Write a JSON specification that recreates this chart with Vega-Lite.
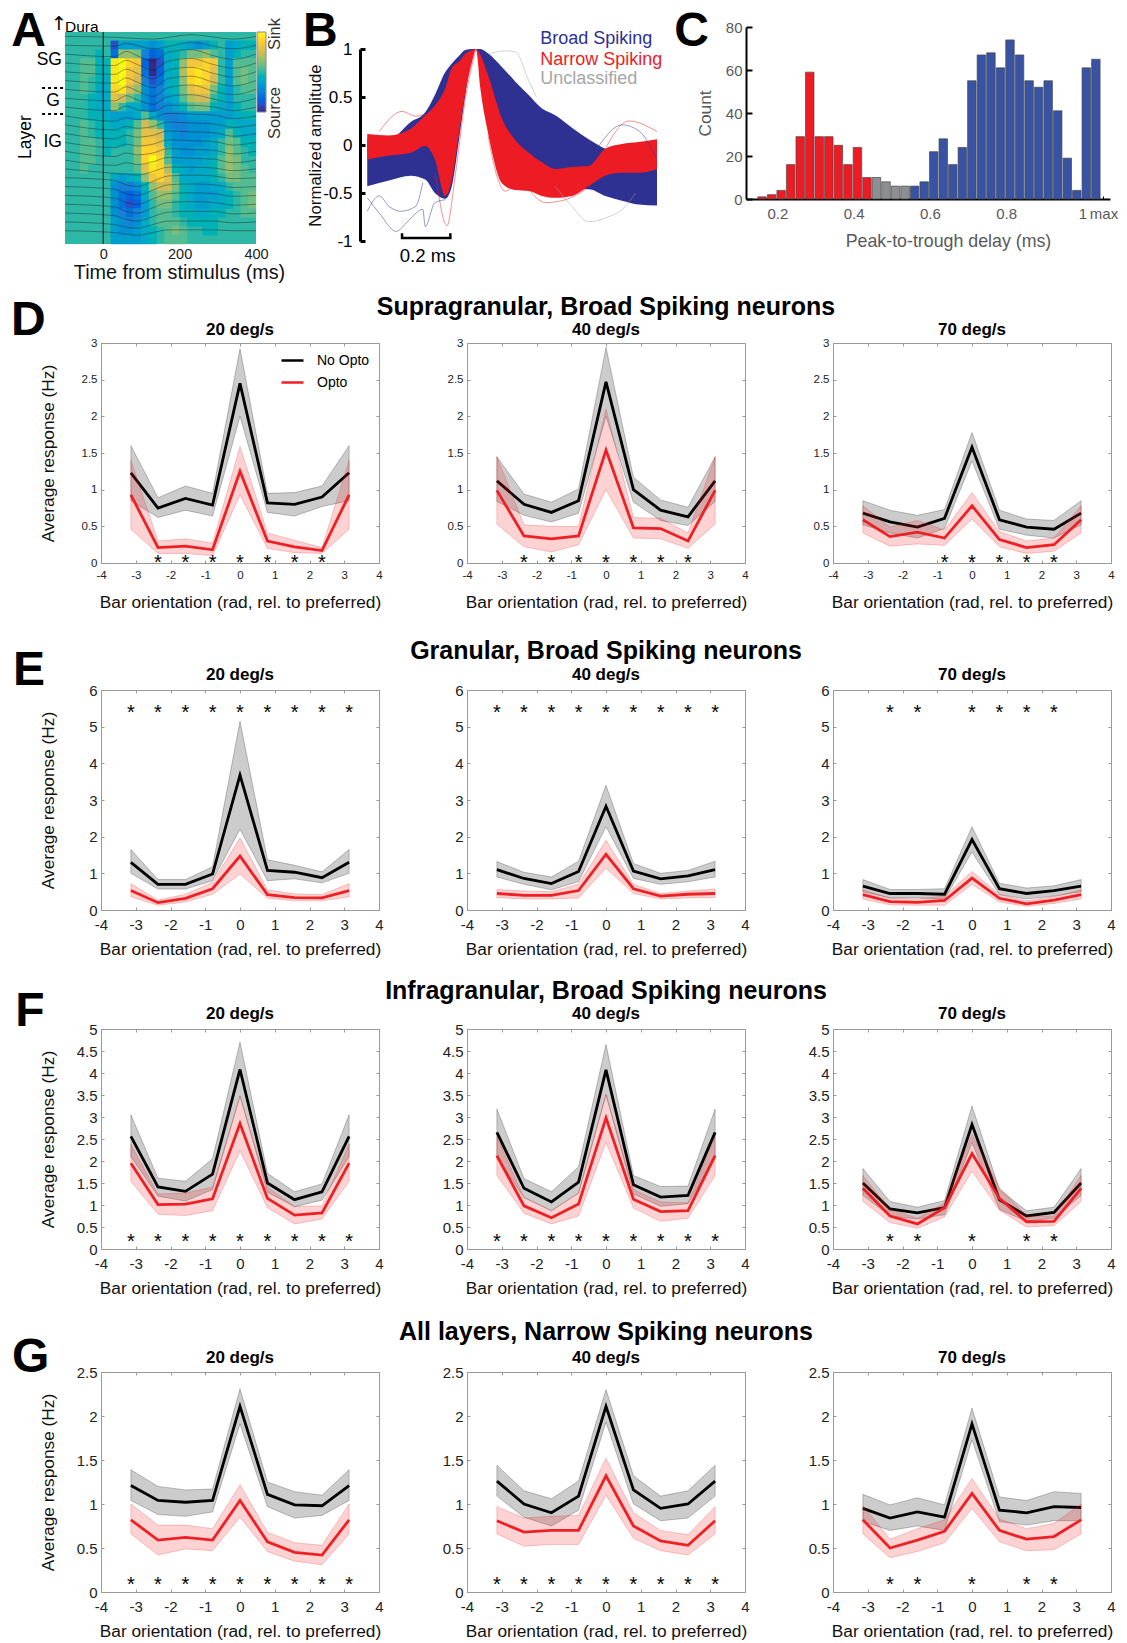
{"$schema":"https://vega.github.io/schema/vega-lite/v6.json","padding":{"left":10,"top":7,"right":0,"bottom":0},"columns":3,"bounds":"flush","spacing":{"column":88,"row":123},
"config":{"font":"Liberation Sans","view":{"stroke":null},"range":{"category":["#000000","#ee2024"]},"text":{"font":"Liberation Sans"},"axis":{"grid":false,"domainColor":"#999","tickColor":"#999","tickSize":-3,"labelFont":"Liberation Sans","titleFont":"Liberation Sans","titleFontWeight":"normal","labelColor":"#222","titleColor":"#111","titleFontSize":17.3,"labelFontSize":15,"titleBaseline":"middle","labelFlush":false,"labelOverlap":false},"axisX":{"labelPadding":10},"axisY":{"labelPadding":7}},
"datasets":{
"lines":[
{"p":"D1","s":"No Opto","x":-3.14,"m":1.23,"l":0.85,"h":1.6},{"p":"D1","s":"No Opto","x":-2.36,"m":0.75,"l":0.62,"h":0.89},{"p":"D1","s":"No Opto","x":-1.57,"m":0.88,"l":0.72,"h":1.05},{"p":"D1","s":"No Opto","x":-0.79,"m":0.79,"l":0.64,"h":0.95},{"p":"D1","s":"No Opto","x":0,"m":2.45,"l":2.0,"h":2.92},{"p":"D1","s":"No Opto","x":0.79,"m":0.82,"l":0.69,"h":0.95},{"p":"D1","s":"No Opto","x":1.57,"m":0.8,"l":0.64,"h":0.96},{"p":"D1","s":"No Opto","x":2.36,"m":0.9,"l":0.77,"h":1.05},{"p":"D1","s":"No Opto","x":3.14,"m":1.23,"l":0.85,"h":1.6},
{"p":"D1","s":"Opto","x":-3.14,"m":0.93,"l":0.46,"h":1.4},{"p":"D1","s":"Opto","x":-2.36,"m":0.21,"l":0.13,"h":0.3},{"p":"D1","s":"Opto","x":-1.57,"m":0.23,"l":0.13,"h":0.33},{"p":"D1","s":"Opto","x":-0.79,"m":0.18,"l":0.1,"h":0.27},{"p":"D1","s":"Opto","x":0,"m":1.25,"l":0.93,"h":1.59},{"p":"D1","s":"Opto","x":0.79,"m":0.3,"l":0.2,"h":0.41},{"p":"D1","s":"Opto","x":1.57,"m":0.22,"l":0.14,"h":0.31},{"p":"D1","s":"Opto","x":2.36,"m":0.17,"l":0.13,"h":0.21},{"p":"D1","s":"Opto","x":3.14,"m":0.93,"l":0.46,"h":1.4},
{"p":"D2","s":"No Opto","x":-3.14,"m":1.12,"l":0.84,"h":1.45},{"p":"D2","s":"No Opto","x":-2.36,"m":0.8,"l":0.65,"h":0.94},{"p":"D2","s":"No Opto","x":-1.57,"m":0.69,"l":0.56,"h":0.83},{"p":"D2","s":"No Opto","x":-0.79,"m":0.85,"l":0.68,"h":1.01},{"p":"D2","s":"No Opto","x":0,"m":2.47,"l":2.0,"h":2.94},{"p":"D2","s":"No Opto","x":0.79,"m":1.0,"l":0.83,"h":1.17},{"p":"D2","s":"No Opto","x":1.57,"m":0.72,"l":0.58,"h":0.86},{"p":"D2","s":"No Opto","x":2.36,"m":0.63,"l":0.51,"h":0.76},{"p":"D2","s":"No Opto","x":3.14,"m":1.12,"l":0.84,"h":1.45},
{"p":"D2","s":"Opto","x":-3.14,"m":0.99,"l":0.53,"h":1.45},{"p":"D2","s":"Opto","x":-2.36,"m":0.37,"l":0.22,"h":0.52},{"p":"D2","s":"Opto","x":-1.57,"m":0.33,"l":0.15,"h":0.5},{"p":"D2","s":"Opto","x":-0.79,"m":0.37,"l":0.25,"h":0.5},{"p":"D2","s":"Opto","x":0,"m":1.54,"l":1.0,"h":2.1},{"p":"D2","s":"Opto","x":0.79,"m":0.48,"l":0.34,"h":0.62},{"p":"D2","s":"Opto","x":1.57,"m":0.47,"l":0.33,"h":0.61},{"p":"D2","s":"Opto","x":2.36,"m":0.3,"l":0.2,"h":0.41},{"p":"D2","s":"Opto","x":3.14,"m":0.99,"l":0.53,"h":1.45},
{"p":"D3","s":"No Opto","x":-3.14,"m":0.68,"l":0.52,"h":0.85},{"p":"D3","s":"No Opto","x":-2.36,"m":0.56,"l":0.41,"h":0.72},{"p":"D3","s":"No Opto","x":-1.57,"m":0.49,"l":0.34,"h":0.65},{"p":"D3","s":"No Opto","x":-0.79,"m":0.61,"l":0.47,"h":0.73},{"p":"D3","s":"No Opto","x":0,"m":1.58,"l":1.39,"h":1.78},{"p":"D3","s":"No Opto","x":0.79,"m":0.59,"l":0.46,"h":0.72},{"p":"D3","s":"No Opto","x":1.57,"m":0.49,"l":0.38,"h":0.6},{"p":"D3","s":"No Opto","x":2.36,"m":0.46,"l":0.34,"h":0.58},{"p":"D3","s":"No Opto","x":3.14,"m":0.68,"l":0.52,"h":0.85},
{"p":"D3","s":"Opto","x":-3.14,"m":0.59,"l":0.41,"h":0.78},{"p":"D3","s":"Opto","x":-2.36,"m":0.36,"l":0.23,"h":0.49},{"p":"D3","s":"Opto","x":-1.57,"m":0.42,"l":0.26,"h":0.58},{"p":"D3","s":"Opto","x":-0.79,"m":0.34,"l":0.24,"h":0.45},{"p":"D3","s":"Opto","x":0,"m":0.78,"l":0.6,"h":0.96},{"p":"D3","s":"Opto","x":0.79,"m":0.32,"l":0.22,"h":0.43},{"p":"D3","s":"Opto","x":1.57,"m":0.21,"l":0.13,"h":0.3},{"p":"D3","s":"Opto","x":2.36,"m":0.25,"l":0.16,"h":0.34},{"p":"D3","s":"Opto","x":3.14,"m":0.59,"l":0.41,"h":0.78},
{"p":"E1","s":"No Opto","x":-3.14,"m":1.3,"l":1.0,"h":1.65},{"p":"E1","s":"No Opto","x":-2.36,"m":0.7,"l":0.57,"h":0.83},{"p":"E1","s":"No Opto","x":-1.57,"m":0.7,"l":0.57,"h":0.83},{"p":"E1","s":"No Opto","x":-0.79,"m":0.98,"l":0.8,"h":1.18},{"p":"E1","s":"No Opto","x":0,"m":3.68,"l":2.2,"h":5.15},{"p":"E1","s":"No Opto","x":0.79,"m":1.08,"l":0.8,"h":1.37},{"p":"E1","s":"No Opto","x":1.57,"m":1.03,"l":0.85,"h":1.22},{"p":"E1","s":"No Opto","x":2.36,"m":0.88,"l":0.74,"h":1.04},{"p":"E1","s":"No Opto","x":3.14,"m":1.3,"l":1.0,"h":1.65},
{"p":"E1","s":"Opto","x":-3.14,"m":0.53,"l":0.36,"h":0.72},{"p":"E1","s":"Opto","x":-2.36,"m":0.2,"l":0.13,"h":0.27},{"p":"E1","s":"Opto","x":-1.57,"m":0.32,"l":0.22,"h":0.43},{"p":"E1","s":"Opto","x":-0.79,"m":0.58,"l":0.43,"h":0.75},{"p":"E1","s":"Opto","x":0,"m":1.47,"l":0.98,"h":1.97},{"p":"E1","s":"Opto","x":0.79,"m":0.42,"l":0.32,"h":0.55},{"p":"E1","s":"Opto","x":1.57,"m":0.34,"l":0.25,"h":0.44},{"p":"E1","s":"Opto","x":2.36,"m":0.33,"l":0.25,"h":0.42},{"p":"E1","s":"Opto","x":3.14,"m":0.53,"l":0.36,"h":0.72},
{"p":"E2","s":"No Opto","x":-3.14,"m":1.1,"l":0.9,"h":1.32},{"p":"E2","s":"No Opto","x":-2.36,"m":0.86,"l":0.7,"h":1.03},{"p":"E2","s":"No Opto","x":-1.57,"m":0.72,"l":0.55,"h":0.9},{"p":"E2","s":"No Opto","x":-0.79,"m":1.05,"l":0.77,"h":1.33},{"p":"E2","s":"No Opto","x":0,"m":2.83,"l":2.27,"h":3.4},{"p":"E2","s":"No Opto","x":0.79,"m":1.06,"l":0.86,"h":1.27},{"p":"E2","s":"No Opto","x":1.57,"m":0.85,"l":0.7,"h":1.0},{"p":"E2","s":"No Opto","x":2.36,"m":0.93,"l":0.77,"h":1.08},{"p":"E2","s":"No Opto","x":3.14,"m":1.1,"l":0.9,"h":1.33},
{"p":"E2","s":"Opto","x":-3.14,"m":0.45,"l":0.34,"h":0.56},{"p":"E2","s":"Opto","x":-2.36,"m":0.4,"l":0.3,"h":0.52},{"p":"E2","s":"Opto","x":-1.57,"m":0.4,"l":0.3,"h":0.5},{"p":"E2","s":"Opto","x":-0.79,"m":0.53,"l":0.33,"h":0.7},{"p":"E2","s":"Opto","x":0,"m":1.52,"l":1.14,"h":1.9},{"p":"E2","s":"Opto","x":0.79,"m":0.58,"l":0.45,"h":0.7},{"p":"E2","s":"Opto","x":1.57,"m":0.38,"l":0.3,"h":0.45},{"p":"E2","s":"Opto","x":2.36,"m":0.43,"l":0.33,"h":0.52},{"p":"E2","s":"Opto","x":3.14,"m":0.45,"l":0.34,"h":0.57},
{"p":"E3","s":"No Opto","x":-3.14,"m":0.65,"l":0.5,"h":0.83},{"p":"E3","s":"No Opto","x":-2.36,"m":0.45,"l":0.33,"h":0.56},{"p":"E3","s":"No Opto","x":-1.57,"m":0.45,"l":0.33,"h":0.56},{"p":"E3","s":"No Opto","x":-0.79,"m":0.43,"l":0.3,"h":0.58},{"p":"E3","s":"No Opto","x":0,"m":1.92,"l":1.58,"h":2.27},{"p":"E3","s":"No Opto","x":0.79,"m":0.58,"l":0.42,"h":0.73},{"p":"E3","s":"No Opto","x":1.57,"m":0.45,"l":0.3,"h":0.6},{"p":"E3","s":"No Opto","x":2.36,"m":0.53,"l":0.38,"h":0.66},{"p":"E3","s":"No Opto","x":3.14,"m":0.65,"l":0.5,"h":0.83},
{"p":"E3","s":"Opto","x":-3.14,"m":0.42,"l":0.3,"h":0.55},{"p":"E3","s":"Opto","x":-2.36,"m":0.23,"l":0.14,"h":0.32},{"p":"E3","s":"Opto","x":-1.57,"m":0.21,"l":0.13,"h":0.3},{"p":"E3","s":"Opto","x":-0.79,"m":0.26,"l":0.13,"h":0.38},{"p":"E3","s":"Opto","x":0,"m":0.87,"l":0.7,"h":1.05},{"p":"E3","s":"Opto","x":0.79,"m":0.32,"l":0.22,"h":0.42},{"p":"E3","s":"Opto","x":1.57,"m":0.17,"l":0.1,"h":0.25},{"p":"E3","s":"Opto","x":2.36,"m":0.27,"l":0.18,"h":0.36},{"p":"E3","s":"Opto","x":3.14,"m":0.42,"l":0.3,"h":0.55},
{"p":"F1","s":"No Opto","x":-3.14,"m":2.56,"l":2.1,"h":3.05},{"p":"F1","s":"No Opto","x":-2.36,"m":1.41,"l":1.2,"h":1.61},{"p":"F1","s":"No Opto","x":-1.57,"m":1.31,"l":1.09,"h":1.54},{"p":"F1","s":"No Opto","x":-0.79,"m":1.7,"l":1.35,"h":2.05},{"p":"F1","s":"No Opto","x":0,"m":4.08,"l":3.48,"h":4.7},{"p":"F1","s":"No Opto","x":0.79,"m":1.5,"l":1.29,"h":1.72},{"p":"F1","s":"No Opto","x":1.57,"m":1.12,"l":0.96,"h":1.3},{"p":"F1","s":"No Opto","x":2.36,"m":1.3,"l":1.11,"h":1.48},{"p":"F1","s":"No Opto","x":3.14,"m":2.56,"l":2.1,"h":3.05},
{"p":"F1","s":"Opto","x":-3.14,"m":1.95,"l":1.54,"h":2.38},{"p":"F1","s":"Opto","x":-2.36,"m":1.01,"l":0.79,"h":1.25},{"p":"F1","s":"Opto","x":-1.57,"m":1.02,"l":0.76,"h":1.27},{"p":"F1","s":"Opto","x":-0.79,"m":1.14,"l":0.87,"h":1.41},{"p":"F1","s":"Opto","x":0,"m":2.85,"l":2.23,"h":3.47},{"p":"F1","s":"Opto","x":0.79,"m":1.15,"l":0.94,"h":1.4},{"p":"F1","s":"Opto","x":1.57,"m":0.77,"l":0.57,"h":0.97},{"p":"F1","s":"Opto","x":2.36,"m":0.82,"l":0.68,"h":0.98},{"p":"F1","s":"Opto","x":3.14,"m":1.95,"l":1.54,"h":2.38},
{"p":"F2","s":"No Opto","x":-3.14,"m":2.65,"l":2.1,"h":3.18},{"p":"F2","s":"No Opto","x":-2.36,"m":1.38,"l":1.17,"h":1.6},{"p":"F2","s":"No Opto","x":-1.57,"m":1.07,"l":0.87,"h":1.3},{"p":"F2","s":"No Opto","x":-0.79,"m":1.52,"l":1.27,"h":1.87},{"p":"F2","s":"No Opto","x":0,"m":4.07,"l":3.5,"h":4.65},{"p":"F2","s":"No Opto","x":0.79,"m":1.46,"l":1.25,"h":1.67},{"p":"F2","s":"No Opto","x":1.57,"m":1.18,"l":0.97,"h":1.42},{"p":"F2","s":"No Opto","x":2.36,"m":1.22,"l":1.03,"h":1.43},{"p":"F2","s":"No Opto","x":3.14,"m":2.65,"l":2.1,"h":3.18},
{"p":"F2","s":"Opto","x":-3.14,"m":2.12,"l":1.67,"h":2.55},{"p":"F2","s":"Opto","x":-2.36,"m":0.98,"l":0.81,"h":1.17},{"p":"F2","s":"Opto","x":-1.57,"m":0.71,"l":0.57,"h":0.87},{"p":"F2","s":"Opto","x":-0.79,"m":1.02,"l":0.75,"h":1.27},{"p":"F2","s":"Opto","x":0,"m":2.98,"l":2.42,"h":3.52},{"p":"F2","s":"Opto","x":0.79,"m":1.13,"l":0.93,"h":1.35},{"p":"F2","s":"Opto","x":1.57,"m":0.85,"l":0.63,"h":1.07},{"p":"F2","s":"Opto","x":2.36,"m":0.87,"l":0.7,"h":1.05},{"p":"F2","s":"Opto","x":3.14,"m":2.12,"l":1.67,"h":2.55},
{"p":"F3","s":"No Opto","x":-3.14,"m":1.5,"l":1.22,"h":1.83},{"p":"F3","s":"No Opto","x":-2.36,"m":0.91,"l":0.75,"h":1.08},{"p":"F3","s":"No Opto","x":-1.57,"m":0.82,"l":0.68,"h":0.95},{"p":"F3","s":"No Opto","x":-0.79,"m":0.94,"l":0.78,"h":1.1},{"p":"F3","s":"No Opto","x":0,"m":2.83,"l":2.42,"h":3.25},{"p":"F3","s":"No Opto","x":0.79,"m":1.12,"l":0.9,"h":1.35},{"p":"F3","s":"No Opto","x":1.57,"m":0.75,"l":0.63,"h":0.87},{"p":"F3","s":"No Opto","x":2.36,"m":0.83,"l":0.7,"h":0.95},{"p":"F3","s":"No Opto","x":3.14,"m":1.5,"l":1.22,"h":1.83},
{"p":"F3","s":"Opto","x":-3.14,"m":1.38,"l":1.08,"h":1.67},{"p":"F3","s":"Opto","x":-2.36,"m":0.75,"l":0.6,"h":0.9},{"p":"F3","s":"Opto","x":-1.57,"m":0.57,"l":0.47,"h":0.7},{"p":"F3","s":"Opto","x":-0.79,"m":0.94,"l":0.73,"h":1.05},{"p":"F3","s":"Opto","x":0,"m":2.17,"l":1.77,"h":2.6},{"p":"F3","s":"Opto","x":0.79,"m":1.15,"l":0.88,"h":1.4},{"p":"F3","s":"Opto","x":1.57,"m":0.62,"l":0.5,"h":0.75},{"p":"F3","s":"Opto","x":2.36,"m":0.63,"l":0.53,"h":0.75},{"p":"F3","s":"Opto","x":3.14,"m":1.38,"l":1.08,"h":1.67},
{"p":"G1","s":"No Opto","x":-3.14,"m":1.21,"l":1.04,"h":1.39},{"p":"G1","s":"No Opto","x":-2.36,"m":1.04,"l":0.88,"h":1.2},{"p":"G1","s":"No Opto","x":-1.57,"m":1.02,"l":0.86,"h":1.16},{"p":"G1","s":"No Opto","x":-0.79,"m":1.04,"l":0.91,"h":1.17},{"p":"G1","s":"No Opto","x":0,"m":2.11,"l":1.91,"h":2.31},{"p":"G1","s":"No Opto","x":0.79,"m":1.11,"l":0.97,"h":1.25},{"p":"G1","s":"No Opto","x":1.57,"m":0.99,"l":0.84,"h":1.14},{"p":"G1","s":"No Opto","x":2.36,"m":0.98,"l":0.87,"h":1.1},{"p":"G1","s":"No Opto","x":3.14,"m":1.21,"l":1.04,"h":1.39},
{"p":"G1","s":"Opto","x":-3.14,"m":0.82,"l":0.66,"h":1.0},{"p":"G1","s":"Opto","x":-2.36,"m":0.59,"l":0.42,"h":0.76},{"p":"G1","s":"Opto","x":-1.57,"m":0.62,"l":0.49,"h":0.76},{"p":"G1","s":"Opto","x":-0.79,"m":0.59,"l":0.47,"h":0.72},{"p":"G1","s":"Opto","x":0,"m":1.04,"l":0.85,"h":1.22},{"p":"G1","s":"Opto","x":0.79,"m":0.57,"l":0.46,"h":0.68},{"p":"G1","s":"Opto","x":1.57,"m":0.45,"l":0.35,"h":0.56},{"p":"G1","s":"Opto","x":2.36,"m":0.42,"l":0.31,"h":0.53},{"p":"G1","s":"Opto","x":3.14,"m":0.82,"l":0.66,"h":1.0},
{"p":"G2","s":"No Opto","x":-3.14,"m":1.26,"l":1.09,"h":1.44},{"p":"G2","s":"No Opto","x":-2.36,"m":1.0,"l":0.85,"h":1.15},{"p":"G2","s":"No Opto","x":-1.57,"m":0.9,"l":0.75,"h":1.06},{"p":"G2","s":"No Opto","x":-0.79,"m":1.09,"l":0.93,"h":1.26},{"p":"G2","s":"No Opto","x":0,"m":2.11,"l":1.93,"h":2.3},{"p":"G2","s":"No Opto","x":0.79,"m":1.16,"l":1.0,"h":1.32},{"p":"G2","s":"No Opto","x":1.57,"m":0.95,"l":0.81,"h":1.09},{"p":"G2","s":"No Opto","x":2.36,"m":1.0,"l":0.84,"h":1.15},{"p":"G2","s":"No Opto","x":3.14,"m":1.26,"l":1.09,"h":1.44},
{"p":"G2","s":"Opto","x":-3.14,"m":0.81,"l":0.66,"h":0.97},{"p":"G2","s":"Opto","x":-2.36,"m":0.68,"l":0.52,"h":0.84},{"p":"G2","s":"Opto","x":-1.57,"m":0.7,"l":0.54,"h":0.86},{"p":"G2","s":"Opto","x":-0.79,"m":0.7,"l":0.54,"h":0.87},{"p":"G2","s":"Opto","x":0,"m":1.32,"l":1.1,"h":1.52},{"p":"G2","s":"Opto","x":0.79,"m":0.75,"l":0.61,"h":0.9},{"p":"G2","s":"Opto","x":1.57,"m":0.58,"l":0.47,"h":0.7},{"p":"G2","s":"Opto","x":2.36,"m":0.53,"l":0.42,"h":0.65},{"p":"G2","s":"Opto","x":3.14,"m":0.81,"l":0.66,"h":0.97},
{"p":"G3","s":"No Opto","x":-3.14,"m":0.95,"l":0.8,"h":1.11},{"p":"G3","s":"No Opto","x":-2.36,"m":0.84,"l":0.7,"h":0.99},{"p":"G3","s":"No Opto","x":-1.57,"m":0.91,"l":0.75,"h":1.07},{"p":"G3","s":"No Opto","x":-0.79,"m":0.85,"l":0.7,"h":0.99},{"p":"G3","s":"No Opto","x":0,"m":1.91,"l":1.73,"h":2.09},{"p":"G3","s":"No Opto","x":0.79,"m":0.93,"l":0.8,"h":1.08},{"p":"G3","s":"No Opto","x":1.57,"m":0.9,"l":0.76,"h":1.04},{"p":"G3","s":"No Opto","x":2.36,"m":0.97,"l":0.81,"h":1.14},{"p":"G3","s":"No Opto","x":3.14,"m":0.96,"l":0.81,"h":1.12},
{"p":"G3","s":"Opto","x":-3.14,"m":0.82,"l":0.66,"h":0.98},{"p":"G3","s":"Opto","x":-2.36,"m":0.5,"l":0.39,"h":0.6},{"p":"G3","s":"Opto","x":-1.57,"m":0.59,"l":0.46,"h":0.72},{"p":"G3","s":"Opto","x":-0.79,"m":0.69,"l":0.56,"h":0.82},{"p":"G3","s":"Opto","x":0,"m":1.12,"l":0.95,"h":1.29},{"p":"G3","s":"Opto","x":0.79,"m":0.7,"l":0.57,"h":0.83},{"p":"G3","s":"Opto","x":1.57,"m":0.6,"l":0.47,"h":0.72},{"p":"G3","s":"Opto","x":2.36,"m":0.63,"l":0.48,"h":0.78},{"p":"G3","s":"Opto","x":3.14,"m":0.82,"l":0.66,"h":1.0}
],
"stars":[
{"p":"D1","x":-2.36,"y":0.07},{"p":"D1","x":-1.57,"y":0.07},{"p":"D1","x":-0.79,"y":0.07},{"p":"D1","x":0,"y":0.07},{"p":"D1","x":0.79,"y":0.07},{"p":"D1","x":1.57,"y":0.07},{"p":"D1","x":2.36,"y":0.07},
{"p":"D2","x":-2.36,"y":0.07},{"p":"D2","x":-1.57,"y":0.07},{"p":"D2","x":-0.79,"y":0.07},{"p":"D2","x":0,"y":0.07},{"p":"D2","x":0.79,"y":0.07},{"p":"D2","x":1.57,"y":0.07},{"p":"D2","x":2.36,"y":0.07},
{"p":"D3","x":-0.79,"y":0.07},{"p":"D3","x":0,"y":0.07},{"p":"D3","x":0.79,"y":0.07},{"p":"D3","x":1.57,"y":0.07},{"p":"D3","x":2.36,"y":0.07},
{"p":"E1","x":-3.14,"y":5.5},{"p":"E1","x":-2.36,"y":5.5},{"p":"E1","x":-1.57,"y":5.5},{"p":"E1","x":-0.79,"y":5.5},{"p":"E1","x":0,"y":5.5},{"p":"E1","x":0.79,"y":5.5},{"p":"E1","x":1.57,"y":5.5},{"p":"E1","x":2.36,"y":5.5},{"p":"E1","x":3.14,"y":5.5},
{"p":"E2","x":-3.14,"y":5.5},{"p":"E2","x":-2.36,"y":5.5},{"p":"E2","x":-1.57,"y":5.5},{"p":"E2","x":-0.79,"y":5.5},{"p":"E2","x":0,"y":5.5},{"p":"E2","x":0.79,"y":5.5},{"p":"E2","x":1.57,"y":5.5},{"p":"E2","x":2.36,"y":5.5},{"p":"E2","x":3.14,"y":5.5},
{"p":"E3","x":-2.36,"y":5.5},{"p":"E3","x":-1.57,"y":5.5},{"p":"E3","x":0,"y":5.5},{"p":"E3","x":0.79,"y":5.5},{"p":"E3","x":1.57,"y":5.5},{"p":"E3","x":2.36,"y":5.5},
{"p":"F1","x":-3.14,"y":0.27},{"p":"F1","x":-2.36,"y":0.27},{"p":"F1","x":-1.57,"y":0.27},{"p":"F1","x":-0.79,"y":0.27},{"p":"F1","x":0,"y":0.27},{"p":"F1","x":0.79,"y":0.27},{"p":"F1","x":1.57,"y":0.27},{"p":"F1","x":2.36,"y":0.27},{"p":"F1","x":3.14,"y":0.27},
{"p":"F2","x":-3.14,"y":0.27},{"p":"F2","x":-2.36,"y":0.27},{"p":"F2","x":-1.57,"y":0.27},{"p":"F2","x":-0.79,"y":0.27},{"p":"F2","x":0,"y":0.27},{"p":"F2","x":0.79,"y":0.27},{"p":"F2","x":1.57,"y":0.27},{"p":"F2","x":2.36,"y":0.27},{"p":"F2","x":3.14,"y":0.27},
{"p":"F3","x":-2.36,"y":0.27},{"p":"F3","x":-1.57,"y":0.27},{"p":"F3","x":0,"y":0.27},{"p":"F3","x":1.57,"y":0.27},{"p":"F3","x":2.36,"y":0.27},
{"p":"G1","x":-3.14,"y":0.137},{"p":"G1","x":-2.36,"y":0.137},{"p":"G1","x":-1.57,"y":0.137},{"p":"G1","x":-0.79,"y":0.137},{"p":"G1","x":0,"y":0.137},{"p":"G1","x":0.79,"y":0.137},{"p":"G1","x":1.57,"y":0.137},{"p":"G1","x":2.36,"y":0.137},{"p":"G1","x":3.14,"y":0.137},
{"p":"G2","x":-3.14,"y":0.137},{"p":"G2","x":-2.36,"y":0.137},{"p":"G2","x":-1.57,"y":0.137},{"p":"G2","x":-0.79,"y":0.137},{"p":"G2","x":0,"y":0.137},{"p":"G2","x":0.79,"y":0.137},{"p":"G2","x":1.57,"y":0.137},{"p":"G2","x":2.36,"y":0.137},{"p":"G2","x":3.14,"y":0.137},
{"p":"G3","x":-2.36,"y":0.137},{"p":"G3","x":-1.57,"y":0.137},{"p":"G3","x":0,"y":0.137},{"p":"G3","x":1.57,"y":0.137},{"p":"G3","x":2.36,"y":0.137}
],
"heat":[
{"t":-100,"t2":400,"d":0.5,"d2":24.5,"v":0}
],
"cells":[
{"t":30,"d":2,"v":-8},{"t":50,"d":2,"v":-3},{"t":70,"d":2,"v":-3},{"t":90,"d":2,"v":-3},{"t":110,"d":2,"v":-3},{"t":130,"d":2,"v":-4},{"t":150,"d":2,"v":-3},{"t":170,"d":2,"v":-1},{"t":190,"d":2,"v":-1},{"t":210,"d":2,"v":-2},{"t":230,"d":2,"v":-3},{"t":250,"d":2,"v":-4},{"t":270,"d":2,"v":-3},{"t":290,"d":2,"v":-1},{"t":330,"d":2,"v":-3},{"t":350,"d":2,"v":-2},{"t":370,"d":2,"v":-1},{"t":390,"d":2,"v":-1},
{"t":-10,"d":3,"v":-1},{"t":30,"d":3,"v":-6},{"t":50,"d":3,"v":3},{"t":70,"d":3,"v":3},{"t":90,"d":3,"v":2},{"t":110,"d":3,"v":-5},{"t":130,"d":3,"v":-7},{"t":150,"d":3,"v":-6},{"t":170,"d":3,"v":-2},{"t":190,"d":3,"v":-1},{"t":230,"d":3,"v":2},{"t":250,"d":3,"v":2},{"t":270,"d":3,"v":3},{"t":290,"d":3,"v":1},{"t":330,"d":3,"v":-3},{"t":350,"d":3,"v":-1},
{"t":-50,"d":4,"v":1},{"t":-30,"d":4,"v":1},{"t":-10,"d":4,"v":-1},{"t":10,"d":4,"v":-1},{"t":30,"d":4,"v":9},{"t":50,"d":4,"v":10},{"t":70,"d":4,"v":8},{"t":90,"d":4,"v":7},{"t":110,"d":4,"v":-7},{"t":130,"d":4,"v":-10},{"t":150,"d":4,"v":-8},{"t":170,"d":4,"v":-2},{"t":190,"d":4,"v":-1},{"t":210,"d":4,"v":3},{"t":230,"d":4,"v":7},{"t":250,"d":4,"v":7},{"t":270,"d":4,"v":8},{"t":290,"d":4,"v":7},{"t":330,"d":4,"v":-3},{"t":350,"d":4,"v":1},{"t":370,"d":4,"v":1},{"t":390,"d":4,"v":1},
{"t":-50,"d":5,"v":1},{"t":-30,"d":5,"v":1},{"t":-10,"d":5,"v":-1},{"t":10,"d":5,"v":-1},{"t":30,"d":5,"v":9},{"t":50,"d":5,"v":10},{"t":70,"d":5,"v":7},{"t":90,"d":5,"v":6},{"t":110,"d":5,"v":-6},{"t":130,"d":5,"v":-10},{"t":150,"d":5,"v":-7},{"t":170,"d":5,"v":-2},{"t":190,"d":5,"v":-1},{"t":210,"d":5,"v":4},{"t":230,"d":5,"v":8},{"t":250,"d":5,"v":9},{"t":270,"d":5,"v":8},{"t":290,"d":5,"v":6},{"t":330,"d":5,"v":-3},{"t":350,"d":5,"v":1},{"t":370,"d":5,"v":2},{"t":390,"d":5,"v":1},
{"t":-50,"d":6,"v":1},{"t":-10,"d":6,"v":-1},{"t":10,"d":6,"v":-2},{"t":30,"d":6,"v":9},{"t":50,"d":6,"v":10},{"t":70,"d":6,"v":7},{"t":90,"d":6,"v":5},{"t":110,"d":6,"v":-5},{"t":130,"d":6,"v":-8},{"t":150,"d":6,"v":-6},{"t":170,"d":6,"v":-2},{"t":190,"d":6,"v":-1},{"t":210,"d":6,"v":3},{"t":230,"d":6,"v":8},{"t":250,"d":6,"v":9},{"t":270,"d":6,"v":8},{"t":290,"d":6,"v":5},{"t":330,"d":6,"v":-3},{"t":350,"d":6,"v":1},{"t":370,"d":6,"v":2},{"t":390,"d":6,"v":1},
{"t":-50,"d":7,"v":1},{"t":-10,"d":7,"v":-2},{"t":10,"d":7,"v":-2},{"t":30,"d":7,"v":8},{"t":50,"d":7,"v":9},{"t":70,"d":7,"v":5},{"t":90,"d":7,"v":3},{"t":110,"d":7,"v":-4},{"t":130,"d":7,"v":-6},{"t":150,"d":7,"v":-5},{"t":170,"d":7,"v":-2},{"t":190,"d":7,"v":-1},{"t":210,"d":7,"v":2},{"t":230,"d":7,"v":6},{"t":250,"d":7,"v":7},{"t":270,"d":7,"v":7},{"t":290,"d":7,"v":2},{"t":310,"d":7,"v":-1},{"t":330,"d":7,"v":-3},{"t":370,"d":7,"v":1},{"t":390,"d":7,"v":1},
{"t":-30,"d":8,"v":-1},{"t":-10,"d":8,"v":-2},{"t":10,"d":8,"v":-2},{"t":30,"d":8,"v":6},{"t":50,"d":8,"v":5},{"t":70,"d":8,"v":2},{"t":110,"d":8,"v":-4},{"t":130,"d":8,"v":-6},{"t":150,"d":8,"v":-5},{"t":170,"d":8,"v":-3},{"t":190,"d":8,"v":-2},{"t":210,"d":8,"v":1},{"t":230,"d":8,"v":4},{"t":250,"d":8,"v":5},{"t":270,"d":8,"v":5},{"t":310,"d":8,"v":-1},{"t":330,"d":8,"v":-3},
{"t":-30,"d":9,"v":-1},{"t":-10,"d":9,"v":-2},{"t":10,"d":9,"v":-2},{"t":30,"d":9,"v":3},{"t":70,"d":9,"v":-2},{"t":90,"d":9,"v":-2},{"t":110,"d":9,"v":-4},{"t":130,"d":9,"v":-6},{"t":150,"d":9,"v":-5},{"t":170,"d":9,"v":-4},{"t":190,"d":9,"v":-3},{"t":210,"d":9,"v":-1},{"t":230,"d":9,"v":1},{"t":250,"d":9,"v":2},{"t":270,"d":9,"v":2},{"t":290,"d":9,"v":-1},{"t":310,"d":9,"v":-2},{"t":330,"d":9,"v":-3},{"t":350,"d":9,"v":-1},
{"t":-30,"d":10,"v":-1},{"t":-10,"d":10,"v":-1},{"t":10,"d":10,"v":-2},{"t":30,"d":10,"v":-3},{"t":50,"d":10,"v":-3},{"t":70,"d":10,"v":-3},{"t":90,"d":10,"v":-2},{"t":110,"d":10,"v":1},{"t":130,"d":10,"v":-2},{"t":150,"d":10,"v":-4},{"t":170,"d":10,"v":-5},{"t":190,"d":10,"v":-5},{"t":210,"d":10,"v":-4},{"t":230,"d":10,"v":-3},{"t":250,"d":10,"v":-3},{"t":270,"d":10,"v":-3},{"t":290,"d":10,"v":-3},{"t":310,"d":10,"v":-3},{"t":330,"d":10,"v":-3},{"t":350,"d":10,"v":-2},{"t":370,"d":10,"v":-1},{"t":390,"d":10,"v":-1},
{"t":-50,"d":11,"v":1},{"t":-10,"d":11,"v":-1},{"t":10,"d":11,"v":-1},{"t":30,"d":11,"v":-2},{"t":50,"d":11,"v":-2},{"t":70,"d":11,"v":-1},{"t":90,"d":11,"v":1},{"t":110,"d":11,"v":5},{"t":130,"d":11,"v":3},{"t":170,"d":11,"v":-4},{"t":190,"d":11,"v":-5},{"t":210,"d":11,"v":-5},{"t":230,"d":11,"v":-4},{"t":250,"d":11,"v":-4},{"t":270,"d":11,"v":-4},{"t":290,"d":11,"v":-3},{"t":310,"d":11,"v":-3},{"t":330,"d":11,"v":-1},{"t":350,"d":11,"v":-2},{"t":370,"d":11,"v":-2},{"t":390,"d":11,"v":-2},
{"t":-50,"d":12,"v":1},{"t":-10,"d":12,"v":-1},{"t":10,"d":12,"v":-1},{"t":30,"d":12,"v":-1},{"t":50,"d":12,"v":-1},{"t":90,"d":12,"v":2},{"t":110,"d":12,"v":6},{"t":130,"d":12,"v":6},{"t":150,"d":12,"v":5},{"t":170,"d":12,"v":-3},{"t":190,"d":12,"v":-4},{"t":210,"d":12,"v":-5},{"t":230,"d":12,"v":-4},{"t":250,"d":12,"v":-4},{"t":270,"d":12,"v":-4},{"t":290,"d":12,"v":-3},{"t":310,"d":12,"v":-2},{"t":330,"d":12,"v":1},{"t":350,"d":12,"v":-1},{"t":370,"d":12,"v":-2},{"t":390,"d":12,"v":-2},
{"t":-50,"d":13,"v":1},{"t":-30,"d":13,"v":1},{"t":10,"d":13,"v":-1},{"t":30,"d":13,"v":-1},{"t":50,"d":13,"v":-1},{"t":90,"d":13,"v":2},{"t":110,"d":13,"v":7},{"t":130,"d":13,"v":7},{"t":150,"d":13,"v":6},{"t":170,"d":13,"v":-2},{"t":190,"d":13,"v":-4},{"t":210,"d":13,"v":-4},{"t":230,"d":13,"v":-4},{"t":250,"d":13,"v":-4},{"t":270,"d":13,"v":-3},{"t":290,"d":13,"v":-2},{"t":330,"d":13,"v":2},{"t":350,"d":13,"v":1},{"t":370,"d":13,"v":-1},{"t":390,"d":13,"v":-1},
{"t":-50,"d":14,"v":1},{"t":-30,"d":14,"v":1},{"t":10,"d":14,"v":-1},{"t":90,"d":14,"v":3},{"t":110,"d":14,"v":8},{"t":130,"d":14,"v":8},{"t":150,"d":14,"v":7},{"t":190,"d":14,"v":-3},{"t":210,"d":14,"v":-4},{"t":230,"d":14,"v":-4},{"t":250,"d":14,"v":-3},{"t":270,"d":14,"v":-3},{"t":290,"d":14,"v":-2},{"t":330,"d":14,"v":3},{"t":350,"d":14,"v":1},{"t":390,"d":14,"v":-1},
{"t":-50,"d":15,"v":1},{"t":-30,"d":15,"v":1},{"t":90,"d":15,"v":2},{"t":110,"d":15,"v":8},{"t":130,"d":15,"v":10},{"t":150,"d":15,"v":8},{"t":170,"d":15,"v":1},{"t":190,"d":15,"v":-3},{"t":210,"d":15,"v":-3},{"t":230,"d":15,"v":-3},{"t":250,"d":15,"v":-3},{"t":270,"d":15,"v":-2},{"t":290,"d":15,"v":-1},{"t":310,"d":15,"v":1},{"t":330,"d":15,"v":3},{"t":350,"d":15,"v":2},
{"t":-50,"d":16,"v":1},{"t":90,"d":16,"v":1},{"t":110,"d":16,"v":6},{"t":130,"d":16,"v":9},{"t":150,"d":16,"v":8},{"t":170,"d":16,"v":4},{"t":190,"d":16,"v":-1},{"t":210,"d":16,"v":-2},{"t":230,"d":16,"v":-3},{"t":250,"d":16,"v":-2},{"t":270,"d":16,"v":-2},{"t":290,"d":16,"v":-1},{"t":310,"d":16,"v":1},{"t":330,"d":16,"v":3},{"t":350,"d":16,"v":2},{"t":370,"d":16,"v":1},
{"t":30,"d":17,"v":-2},{"t":50,"d":17,"v":-3},{"t":70,"d":17,"v":-2},{"t":90,"d":17,"v":-1},{"t":110,"d":17,"v":3},{"t":130,"d":17,"v":7},{"t":150,"d":17,"v":8},{"t":170,"d":17,"v":6},{"t":190,"d":17,"v":1},{"t":210,"d":17,"v":-2},{"t":230,"d":17,"v":-2},{"t":250,"d":17,"v":-2},{"t":270,"d":17,"v":-2},{"t":290,"d":17,"v":-1},{"t":330,"d":17,"v":2},{"t":350,"d":17,"v":2},{"t":370,"d":17,"v":1},{"t":390,"d":17,"v":1},
{"t":30,"d":18,"v":-4},{"t":50,"d":18,"v":-5},{"t":70,"d":18,"v":-5},{"t":90,"d":18,"v":-4},{"t":110,"d":18,"v":-1},{"t":130,"d":18,"v":3},{"t":150,"d":18,"v":5},{"t":170,"d":18,"v":5},{"t":190,"d":18,"v":2},{"t":210,"d":18,"v":-1},{"t":230,"d":18,"v":-2},{"t":250,"d":18,"v":-3},{"t":270,"d":18,"v":-3},{"t":290,"d":18,"v":-2},{"t":310,"d":18,"v":-2},{"t":350,"d":18,"v":1},{"t":370,"d":18,"v":1},{"t":390,"d":18,"v":1},
{"t":30,"d":19,"v":-4},{"t":50,"d":19,"v":-6},{"t":70,"d":19,"v":-7},{"t":90,"d":19,"v":-6},{"t":110,"d":19,"v":-2},{"t":130,"d":19,"v":1},{"t":150,"d":19,"v":3},{"t":170,"d":19,"v":3},{"t":190,"d":19,"v":1},{"t":210,"d":19,"v":-1},{"t":230,"d":19,"v":-2},{"t":250,"d":19,"v":-3},{"t":270,"d":19,"v":-3},{"t":290,"d":19,"v":-3},{"t":310,"d":19,"v":-2},{"t":330,"d":19,"v":-1},{"t":370,"d":19,"v":1},{"t":390,"d":19,"v":2},
{"t":30,"d":20,"v":-4},{"t":50,"d":20,"v":-6},{"t":70,"d":20,"v":-8},{"t":90,"d":20,"v":-7},{"t":110,"d":20,"v":-3},{"t":150,"d":20,"v":2},{"t":170,"d":20,"v":2},{"t":210,"d":20,"v":-1},{"t":230,"d":20,"v":-2},{"t":250,"d":20,"v":-3},{"t":270,"d":20,"v":-3},{"t":290,"d":20,"v":-2},{"t":310,"d":20,"v":-2},{"t":330,"d":20,"v":-1},{"t":370,"d":20,"v":1},{"t":390,"d":20,"v":2},
{"t":30,"d":21,"v":-4},{"t":50,"d":21,"v":-5},{"t":70,"d":21,"v":-6},{"t":90,"d":21,"v":-5},{"t":110,"d":21,"v":-3},{"t":150,"d":21,"v":1},{"t":170,"d":21,"v":1},{"t":210,"d":21,"v":-1},{"t":230,"d":21,"v":-1},{"t":250,"d":21,"v":-2},{"t":270,"d":21,"v":-2},{"t":290,"d":21,"v":-1},{"t":310,"d":21,"v":-1},{"t":370,"d":21,"v":1},{"t":390,"d":21,"v":1},
{"t":30,"d":22,"v":-3},{"t":50,"d":22,"v":-4},{"t":70,"d":22,"v":-5},{"t":90,"d":22,"v":-4},{"t":110,"d":22,"v":-2},{"t":150,"d":22,"v":1},{"t":170,"d":22,"v":1},{"t":190,"d":22,"v":1},{"t":230,"d":22,"v":-1},{"t":250,"d":22,"v":-1},{"t":270,"d":22,"v":-1},{"t":290,"d":22,"v":-1},
{"t":30,"d":23,"v":-3},{"t":50,"d":23,"v":-4},{"t":70,"d":23,"v":-4},{"t":90,"d":23,"v":-3},{"t":110,"d":23,"v":-2},{"t":130,"d":23,"v":-1},{"t":170,"d":23,"v":1},{"t":190,"d":23,"v":2},{"t":210,"d":23,"v":1},{"t":270,"d":23,"v":-1},{"t":290,"d":23,"v":-1},
{"t":30,"d":24,"v":-3},{"t":50,"d":24,"v":-3},{"t":70,"d":24,"v":-3},{"t":90,"d":24,"v":-3},{"t":110,"d":24,"v":-2},{"t":130,"d":24,"v":-1},{"t":170,"d":24,"v":1},{"t":190,"d":24,"v":1},{"t":210,"d":24,"v":1}
],
"traces":[
{"c":1,"t":-100,"y":1},{"c":1,"t":30,"y":1.1},{"c":1,"t":130,"y":1.3},{"c":1,"t":230,"y":0.8},{"c":1,"t":340,"y":1.3},{"c":1,"t":400,"y":1},
{"c":2,"t":-100,"y":2},{"c":2,"t":30,"y":2.1},{"c":2,"t":60,"y":1.8},{"c":2,"t":130,"y":2.4},{"c":2,"t":230,"y":1.7},{"c":2,"t":340,"y":2.4},{"c":2,"t":400,"y":2},
{"c":3,"t":-100,"y":3},{"c":3,"t":30,"y":3.3},{"c":3,"t":60,"y":2.7},{"c":3,"t":90,"y":3.2},{"c":3,"t":130,"y":3.8},{"c":3,"t":170,"y":2.8},{"c":3,"t":230,"y":2.5},{"c":3,"t":290,"y":3.2},{"c":3,"t":340,"y":3.6},{"c":3,"t":400,"y":3},
{"c":4,"t":-100,"y":4},{"c":4,"t":30,"y":4.3},{"c":4,"t":60,"y":3.7},{"c":4,"t":90,"y":4.2},{"c":4,"t":130,"y":4.8},{"c":4,"t":170,"y":3.8},{"c":4,"t":230,"y":3.5},{"c":4,"t":290,"y":4.2},{"c":4,"t":340,"y":4.6},{"c":4,"t":400,"y":4},
{"c":5,"t":-100,"y":5},{"c":5,"t":30,"y":5.3},{"c":5,"t":60,"y":4.7},{"c":5,"t":90,"y":5.2},{"c":5,"t":130,"y":5.8},{"c":5,"t":170,"y":4.8},{"c":5,"t":230,"y":4.5},{"c":5,"t":290,"y":5.2},{"c":5,"t":340,"y":5.6},{"c":5,"t":400,"y":5},
{"c":6,"t":-100,"y":6},{"c":6,"t":30,"y":6.3},{"c":6,"t":60,"y":5.7},{"c":6,"t":90,"y":6.2},{"c":6,"t":130,"y":6.8},{"c":6,"t":170,"y":5.8},{"c":6,"t":230,"y":5.5},{"c":6,"t":290,"y":6.2},{"c":6,"t":340,"y":6.6},{"c":6,"t":400,"y":6},
{"c":7,"t":-100,"y":7},{"c":7,"t":30,"y":7.3},{"c":7,"t":60,"y":6.7},{"c":7,"t":90,"y":7.2},{"c":7,"t":130,"y":7.8},{"c":7,"t":170,"y":6.8},{"c":7,"t":230,"y":6.5},{"c":7,"t":290,"y":7.2},{"c":7,"t":340,"y":7.6},{"c":7,"t":400,"y":7},
{"c":8,"t":-100,"y":8},{"c":8,"t":30,"y":8.3},{"c":8,"t":60,"y":7.7},{"c":8,"t":90,"y":8.2},{"c":8,"t":130,"y":8.7},{"c":8,"t":170,"y":7.8},{"c":8,"t":230,"y":7.6},{"c":8,"t":290,"y":8.1},{"c":8,"t":340,"y":8.5},{"c":8,"t":400,"y":8},
{"c":9,"t":-100,"y":9},{"c":9,"t":30,"y":9.4},{"c":9,"t":60,"y":8.9},{"c":9,"t":90,"y":9.3},{"c":9,"t":130,"y":9.5},{"c":9,"t":170,"y":8.8},{"c":9,"t":230,"y":8.8},{"c":9,"t":290,"y":9},{"c":9,"t":340,"y":9.4},{"c":9,"t":400,"y":9},
{"c":10,"t":-100,"y":10},{"c":10,"t":30,"y":10.6},{"c":10,"t":60,"y":10.2},{"c":10,"t":90,"y":10.4},{"c":10,"t":130,"y":10.2},{"c":10,"t":170,"y":9.7},{"c":10,"t":230,"y":9.8},{"c":10,"t":290,"y":9.9},{"c":10,"t":340,"y":10.3},{"c":10,"t":400,"y":10},
{"c":11,"t":-100,"y":11},{"c":11,"t":30,"y":11.6},{"c":11,"t":60,"y":11.2},{"c":11,"t":90,"y":11.4},{"c":11,"t":130,"y":11.2},{"c":11,"t":170,"y":10.7},{"c":11,"t":230,"y":10.8},{"c":11,"t":290,"y":10.9},{"c":11,"t":340,"y":11.3},{"c":11,"t":400,"y":11},
{"c":12,"t":-100,"y":12},{"c":12,"t":30,"y":12.6},{"c":12,"t":60,"y":12.2},{"c":12,"t":90,"y":12.4},{"c":12,"t":130,"y":12.2},{"c":12,"t":170,"y":11.7},{"c":12,"t":230,"y":11.8},{"c":12,"t":290,"y":11.9},{"c":12,"t":340,"y":12.3},{"c":12,"t":400,"y":12},
{"c":13,"t":-100,"y":13},{"c":13,"t":30,"y":13.6},{"c":13,"t":60,"y":13.2},{"c":13,"t":90,"y":13.4},{"c":13,"t":130,"y":13.2},{"c":13,"t":170,"y":12.7},{"c":13,"t":230,"y":12.8},{"c":13,"t":290,"y":12.9},{"c":13,"t":340,"y":13.3},{"c":13,"t":400,"y":13},
{"c":14,"t":-100,"y":14},{"c":14,"t":30,"y":14.6},{"c":14,"t":60,"y":14.2},{"c":14,"t":90,"y":14.4},{"c":14,"t":130,"y":14.2},{"c":14,"t":170,"y":13.7},{"c":14,"t":230,"y":13.8},{"c":14,"t":290,"y":13.9},{"c":14,"t":340,"y":14.3},{"c":14,"t":400,"y":14},
{"c":15,"t":-100,"y":15},{"c":15,"t":30,"y":15.6},{"c":15,"t":60,"y":15.3},{"c":15,"t":90,"y":15.5},{"c":15,"t":130,"y":15.2},{"c":15,"t":170,"y":14.7},{"c":15,"t":230,"y":14.8},{"c":15,"t":290,"y":14.9},{"c":15,"t":340,"y":15.3},{"c":15,"t":400,"y":15},
{"c":16,"t":-100,"y":16},{"c":16,"t":30,"y":16.5},{"c":16,"t":60,"y":16.6},{"c":16,"t":90,"y":16.7},{"c":16,"t":130,"y":16.3},{"c":16,"t":170,"y":15.8},{"c":16,"t":230,"y":15.8},{"c":16,"t":290,"y":15.9},{"c":16,"t":340,"y":16.2},{"c":16,"t":400,"y":16},
{"c":17,"t":-100,"y":17},{"c":17,"t":30,"y":17.3},{"c":17,"t":60,"y":17.8},{"c":17,"t":90,"y":18},{"c":17,"t":130,"y":17.4},{"c":17,"t":170,"y":16.8},{"c":17,"t":230,"y":16.7},{"c":17,"t":290,"y":16.8},{"c":17,"t":340,"y":17.1},{"c":17,"t":400,"y":17},
{"c":18,"t":-100,"y":18},{"c":18,"t":30,"y":18.3},{"c":18,"t":60,"y":18.8},{"c":18,"t":90,"y":19},{"c":18,"t":130,"y":18.4},{"c":18,"t":170,"y":17.8},{"c":18,"t":230,"y":17.7},{"c":18,"t":290,"y":17.8},{"c":18,"t":340,"y":18.1},{"c":18,"t":400,"y":18},
{"c":19,"t":-100,"y":19},{"c":19,"t":30,"y":19.3},{"c":19,"t":60,"y":19.8},{"c":19,"t":90,"y":20},{"c":19,"t":130,"y":19.4},{"c":19,"t":170,"y":18.8},{"c":19,"t":230,"y":18.7},{"c":19,"t":290,"y":18.8},{"c":19,"t":340,"y":19.1},{"c":19,"t":400,"y":19},
{"c":20,"t":-100,"y":20},{"c":20,"t":30,"y":20.3},{"c":20,"t":60,"y":20.8},{"c":20,"t":90,"y":21},{"c":20,"t":130,"y":20.4},{"c":20,"t":170,"y":19.8},{"c":20,"t":230,"y":19.7},{"c":20,"t":290,"y":19.8},{"c":20,"t":340,"y":20.1},{"c":20,"t":400,"y":20},
{"c":21,"t":-100,"y":21},{"c":21,"t":30,"y":21.3},{"c":21,"t":60,"y":21.7},{"c":21,"t":90,"y":21.9},{"c":21,"t":130,"y":21.4},{"c":21,"t":170,"y":20.9},{"c":21,"t":230,"y":20.8},{"c":21,"t":290,"y":20.8},{"c":21,"t":340,"y":21.1},{"c":21,"t":400,"y":21},
{"c":22,"t":-100,"y":22},{"c":22,"t":30,"y":22.3},{"c":22,"t":60,"y":22.6},{"c":22,"t":90,"y":22.7},{"c":22,"t":130,"y":22.3},{"c":22,"t":170,"y":21.9},{"c":22,"t":230,"y":21.9},{"c":22,"t":290,"y":21.9},{"c":22,"t":340,"y":22.1},{"c":22,"t":400,"y":22},
{"c":23,"t":-100,"y":23},{"c":23,"t":30,"y":23.2},{"c":23,"t":60,"y":23.4},{"c":23,"t":90,"y":23.5},{"c":23,"t":130,"y":23.2},{"c":23,"t":170,"y":22.9},{"c":23,"t":230,"y":22.9},{"c":23,"t":290,"y":22.9},{"c":23,"t":340,"y":23},{"c":23,"t":400,"y":23}
],
"env":[
{"k":"Broad Spiking","t":-0.45,"l":-0.43,"h":0.06},{"k":"Broad Spiking","t":-0.36,"l":-0.37,"h":0.06},{"k":"Broad Spiking","t":-0.27,"l":-0.32,"h":0.24},{"k":"Broad Spiking","t":-0.21,"l":-0.36,"h":0.34},{"k":"Broad Spiking","t":-0.17,"l":-0.5,"h":0.52},{"k":"Broad Spiking","t":-0.127,"l":-0.56,"h":0.76},{"k":"Broad Spiking","t":-0.1,"l":-0.43,"h":0.85},{"k":"Broad Spiking","t":-0.07,"l":0.06,"h":0.93},{"k":"Broad Spiking","t":-0.044,"l":0.52,"h":0.99},{"k":"Broad Spiking","t":-0.016,"l":0.9,"h":1},{"k":"Broad Spiking","t":0,"l":1,"h":1},{"k":"Broad Spiking","t":0.018,"l":0.73,"h":1},{"k":"Broad Spiking","t":0.052,"l":0.38,"h":0.95},{"k":"Broad Spiking","t":0.108,"l":-0.08,"h":0.81},{"k":"Broad Spiking","t":0.163,"l":-0.32,"h":0.66},{"k":"Broad Spiking","t":0.218,"l":-0.44,"h":0.52},{"k":"Broad Spiking","t":0.273,"l":-0.46,"h":0.38},{"k":"Broad Spiking","t":0.328,"l":-0.48,"h":0.31},{"k":"Broad Spiking","t":0.397,"l":-0.46,"h":0.18},{"k":"Broad Spiking","t":0.466,"l":-0.46,"h":0.06},{"k":"Broad Spiking","t":0.535,"l":-0.53,"h":-0.04},{"k":"Broad Spiking","t":0.604,"l":-0.58,"h":-0.11},{"k":"Broad Spiking","t":0.673,"l":-0.62,"h":-0.18},{"k":"Broad Spiking","t":0.749,"l":-0.63,"h":-0.25},
{"k":"Narrow Spiking","t":-0.45,"l":-0.15,"h":0.115},{"k":"Narrow Spiking","t":-0.36,"l":-0.11,"h":0.1},{"k":"Narrow Spiking","t":-0.27,"l":-0.08,"h":0.17},{"k":"Narrow Spiking","t":-0.21,"l":-0.01,"h":0.31},{"k":"Narrow Spiking","t":-0.17,"l":-0.15,"h":0.41},{"k":"Narrow Spiking","t":-0.127,"l":-0.53,"h":0.59},{"k":"Narrow Spiking","t":-0.1,"l":-0.36,"h":0.8},{"k":"Narrow Spiking","t":-0.07,"l":0.13,"h":0.87},{"k":"Narrow Spiking","t":-0.044,"l":0.55,"h":0.95},{"k":"Narrow Spiking","t":-0.016,"l":0.87,"h":0.99},{"k":"Narrow Spiking","t":0,"l":1,"h":1},{"k":"Narrow Spiking","t":0.018,"l":0.59,"h":0.94},{"k":"Narrow Spiking","t":0.052,"l":0.1,"h":0.71},{"k":"Narrow Spiking","t":0.108,"l":-0.4,"h":0.27},{"k":"Narrow Spiking","t":0.163,"l":-0.47,"h":0.05},{"k":"Narrow Spiking","t":0.218,"l":-0.48,"h":-0.08},{"k":"Narrow Spiking","t":0.273,"l":-0.53,"h":-0.18},{"k":"Narrow Spiking","t":0.328,"l":-0.55,"h":-0.25},{"k":"Narrow Spiking","t":0.397,"l":-0.53,"h":-0.23},{"k":"Narrow Spiking","t":0.466,"l":-0.43,"h":-0.22},{"k":"Narrow Spiking","t":0.535,"l":-0.32,"h":-0.04},{"k":"Narrow Spiking","t":0.604,"l":-0.29,"h":0.01},{"k":"Narrow Spiking","t":0.673,"l":-0.29,"h":0.03},{"k":"Narrow Spiking","t":0.749,"l":-0.25,"h":0.06}
],
"wave":[
{"w":"b1","k":"Broad Spiking","t":-0.45,"y":-0.69},{"w":"b1","k":"Broad Spiking","t":-0.4,"y":-0.53},{"w":"b1","k":"Broad Spiking","t":-0.36,"y":-0.64},{"w":"b1","k":"Broad Spiking","t":-0.31,"y":-0.69},{"w":"b1","k":"Broad Spiking","t":-0.25,"y":-0.64},{"w":"b1","k":"Broad Spiking","t":-0.22,"y":-0.39},
{"w":"b2","k":"Broad Spiking","t":-0.45,"y":-0.55},{"w":"b2","k":"Broad Spiking","t":-0.4,"y":-0.71},{"w":"b2","k":"Broad Spiking","t":-0.33,"y":-0.9},{"w":"b2","k":"Broad Spiking","t":-0.28,"y":-0.79},{"w":"b2","k":"Broad Spiking","t":-0.22,"y":-0.67},{"w":"b2","k":"Broad Spiking","t":-0.21,"y":-0.85},{"w":"b2","k":"Broad Spiking","t":-0.17,"y":-0.6},{"w":"b2","k":"Broad Spiking","t":-0.127,"y":-0.57},
{"w":"b3","k":"Broad Spiking","t":0.508,"y":-0.01},{"w":"b3","k":"Broad Spiking","t":0.604,"y":0.21},{"w":"b3","k":"Broad Spiking","t":0.673,"y":0.15},{"w":"b3","k":"Broad Spiking","t":0.749,"y":-0.15},
{"w":"r1","k":"Narrow Spiking","t":-0.4,"y":0.14},{"w":"r1","k":"Narrow Spiking","t":-0.306,"y":0.35},{"w":"r1","k":"Narrow Spiking","t":-0.25,"y":0.3},{"w":"r1","k":"Narrow Spiking","t":-0.21,"y":0.32},
{"w":"r2","k":"Narrow Spiking","t":-0.168,"y":-0.29},{"w":"r2","k":"Narrow Spiking","t":-0.12,"y":-0.84},{"w":"r2","k":"Narrow Spiking","t":-0.086,"y":-0.32},{"w":"r2","k":"Narrow Spiking","t":-0.044,"y":0.48},{"w":"r2","k":"Narrow Spiking","t":0,"y":1},
{"w":"r3","k":"Narrow Spiking","t":0.535,"y":-0.04},{"w":"r3","k":"Narrow Spiking","t":0.632,"y":0.25},{"w":"r3","k":"Narrow Spiking","t":0.749,"y":0.14},
{"w":"r4","k":"Narrow Spiking","t":0.05,"y":0.1},{"w":"r4","k":"Narrow Spiking","t":0.086,"y":-0.32},{"w":"r4","k":"Narrow Spiking","t":0.12,"y":-0.48},{"w":"r4","k":"Narrow Spiking","t":0.163,"y":-0.4},
{"w":"r5","k":"Narrow Spiking","t":0.218,"y":-0.46},{"w":"r5","k":"Narrow Spiking","t":0.287,"y":-0.6},{"w":"r5","k":"Narrow Spiking","t":0.37,"y":-0.57},{"w":"r5","k":"Narrow Spiking","t":0.45,"y":-0.47},
{"w":"g1","k":"Unclassified","t":0.052,"y":0.95},{"w":"g1","k":"Unclassified","t":0.12,"y":0.98},{"w":"g1","k":"Unclassified","t":0.163,"y":0.97},{"w":"g1","k":"Unclassified","t":0.218,"y":0.67},{"w":"g1","k":"Unclassified","t":0.25,"y":0.5},
{"w":"g2","k":"Unclassified","t":0.328,"y":-0.43},{"w":"g2","k":"Unclassified","t":0.397,"y":-0.64},{"w":"g2","k":"Unclassified","t":0.466,"y":-0.8},{"w":"g2","k":"Unclassified","t":0.535,"y":-0.76},{"w":"g2","k":"Unclassified","t":0.618,"y":-0.64},{"w":"g2","k":"Unclassified","t":0.66,"y":-0.5}
],
"bars":[
{"t":0.16,"n":1,"k":"Narrow Spiking"},{"t":0.185,"n":2,"k":"Narrow Spiking"},{"t":0.21,"n":4,"k":"Narrow Spiking"},{"t":0.235,"n":16,"k":"Narrow Spiking"},{"t":0.26,"n":29,"k":"Narrow Spiking"},{"t":0.285,"n":59,"k":"Narrow Spiking"},{"t":0.31,"n":29,"k":"Narrow Spiking"},{"t":0.335,"n":29,"k":"Narrow Spiking"},{"t":0.36,"n":25,"k":"Narrow Spiking"},{"t":0.385,"n":16,"k":"Narrow Spiking"},{"t":0.41,"n":24,"k":"Narrow Spiking"},{"t":0.435,"n":10,"k":"Narrow Spiking"},{"t":0.46,"n":10,"k":"Unclassified"},{"t":0.485,"n":8,"k":"Unclassified"},{"t":0.51,"n":6,"k":"Unclassified"},{"t":0.535,"n":6,"k":"Unclassified"},{"t":0.56,"n":6,"k":"Broad Spiking"},{"t":0.585,"n":8,"k":"Broad Spiking"},{"t":0.61,"n":22,"k":"Broad Spiking"},{"t":0.635,"n":28,"k":"Broad Spiking"},{"t":0.66,"n":16,"k":"Broad Spiking"},{"t":0.685,"n":24,"k":"Broad Spiking"},{"t":0.71,"n":55,"k":"Broad Spiking"},{"t":0.735,"n":67,"k":"Broad Spiking"},{"t":0.76,"n":68,"k":"Broad Spiking"},{"t":0.785,"n":61,"k":"Broad Spiking"},{"t":0.81,"n":74,"k":"Broad Spiking"},{"t":0.835,"n":67,"k":"Broad Spiking"},{"t":0.86,"n":55,"k":"Broad Spiking"},{"t":0.885,"n":52,"k":"Broad Spiking"},{"t":0.91,"n":55,"k":"Broad Spiking"},{"t":0.935,"n":41,"k":"Broad Spiking"},{"t":0.96,"n":19,"k":"Broad Spiking"},{"t":0.985,"n":4,"k":"Broad Spiking"},{"t":1.01,"n":61,"k":"Broad Spiking"},{"t":1.035,"n":65,"k":"Broad Spiking"}
]
},
"concat":[
{"width":278,"height":193,"resolve":{"axis":{"x":"independent","y":"independent"}},"layer":[
{"data":{"name":"heat"},"mark":{"type":"rect"},"encoding":{"x":{"field":"t","type":"quantitative","scale":{"domain":[-100,400],"range":[-36,155],"nice":false},"axis":{"values":[0,200,400],"domain":false,"ticks":false,"offset":24,"labelFontSize":14.5,"labelPadding":3,"labelExpr":"''+datum.value","title":"Time from stimulus (ms)","titleFontSize":19.8,"titleX":78,"titleY":28}},"x2":{"field":"t2"},"y":{"field":"d","type":"quantitative","scale":{"domain":[0.5,24.5],"range":[5,217],"nice":false},"axis":null},"y2":{"field":"d2"},"color":{"field":"v","type":"quantitative","scale":{"domain":[-10,-7.5,-5,-2.5,0,2.5,5,7.5,10],"range":["#352a87","#0f5cdd","#1481d6","#06a4ca","#2eb7a4","#87bf77","#d1bb59","#fec832","#f9fb0e"]},"legend":{"orient":"none","legendX":156,"legendY":5,"title":null,"gradientLength":80,"gradientThickness":9,"labelOpacity":0,"labelFontSize":1,"tickCount":2,"gradientStrokeColor":"#888","gradientStrokeWidth":1}}}},
{"data":{"name":"cells"},"mark":{"type":"rect","width":8,"height":9.3},"encoding":{"x":{"field":"t","type":"quantitative","axis":null},"y":{"field":"d","type":"quantitative","axis":null},"color":{"field":"v","type":"quantitative"}}},
{"data":{"name":"traces"},"mark":{"type":"line","stroke":"#111","strokeWidth":0.5,"opacity":0.75,"interpolate":"monotone"},"encoding":{"x":{"field":"t","type":"quantitative","axis":null},"y":{"field":"y","type":"quantitative","axis":null},"detail":{"field":"c"}}},
{"data":{"values":[{"t":0,"a":0.5,"b":24.5}]},"mark":{"type":"rule","stroke":"#000","strokeWidth":0.9},"encoding":{"x":{"field":"t","type":"quantitative","axis":null},"y":{"field":"a","type":"quantitative","axis":null},"y2":{"field":"b"}}},
{"data":{"values":[{"t":-160,"t2":-103,"y":6.84},{"t":-160,"t2":-103,"y":9.79}]},"mark":{"type":"rule","stroke":"#000","strokeWidth":2,"strokeDash":[3,3]},"encoding":{"x":{"field":"t","type":"quantitative","axis":null},"x2":{"field":"t2"},"y":{"field":"y","type":"quantitative","axis":null}}},
{"data":{"values":[{"t":-108,"y":3.67,"s":"SG"},{"t":-108,"y":12.96,"s":"IG"}]},"mark":{"type":"text","fontSize":17.5,"align":"right","baseline":"middle"},"encoding":{"x":{"field":"t","type":"quantitative","axis":null},"y":{"field":"y","type":"quantitative","axis":null},"text":{"field":"s"}}},
{"data":{"values":[{"t":-131,"y":8.3,"s":"G"}]},"mark":{"type":"text","fontSize":17.5,"baseline":"middle"},"encoding":{"x":{"field":"t","type":"quantitative","axis":null},"y":{"field":"y","type":"quantitative","axis":null},"text":{"field":"s"}}},
{"data":{"values":[{"t":-202,"y":12.4,"s":"Layer"}]},"mark":{"type":"text","fontSize":17.5,"angle":270,"baseline":"middle"},"encoding":{"x":{"field":"t","type":"quantitative","axis":null},"y":{"field":"y","type":"quantitative","axis":null},"text":{"field":"s"}}},
{"data":{"values":[{"t":-100,"y":-0.05,"s":"Dura"}]},"mark":{"type":"text","fontSize":15.5,"align":"left","baseline":"middle"},"encoding":{"x":{"field":"t","type":"quantitative","axis":null},"y":{"field":"y","type":"quantitative","axis":null},"text":{"field":"s"}}},
{"data":{"values":[{"t":-116,"y":-0.4,"s":"↑"}]},"mark":{"type":"text","fontSize":19,"font":"DejaVu Sans","baseline":"middle"},"encoding":{"x":{"field":"t","type":"quantitative","axis":null},"y":{"field":"y","type":"quantitative","axis":null},"text":{"field":"s"}}},
{"data":{"values":[{"t":450,"y":0.73,"s":"Sink"},{"t":450,"y":9.67,"s":"Source"}]},"mark":{"type":"text","fontSize":16.4,"angle":270,"baseline":"middle","color":"#333"},"encoding":{"x":{"field":"t","type":"quantitative","axis":null},"y":{"field":"y","type":"quantitative","axis":null},"text":{"field":"s"}}},
{"data":{"values":[{"t":-241,"y":2.09,"s":"A"}]},"mark":{"type":"text","fontSize":48,"fontWeight":"bold","align":"left","baseline":"alphabetic"},"encoding":{"x":{"field":"t","type":"quantitative","axis":null},"y":{"field":"y","type":"quantitative","axis":null},"text":{"field":"s"}}}
]},
{"width":278,"height":193,"layer":[
{"data":{"name":"env"},"mark":{"type":"area","interpolate":"monotone"},"encoding":{"x":{"field":"t","type":"quantitative","scale":{"domain":[-0.451,0.749],"range":[-100,190],"nice":false},"axis":null},"y":{"field":"l","type":"quantitative","scale":{"domain":[-1,1],"range":[214,22],"nice":false},"axis":{"values":[-1,-0.5,0,0.5,1],"labelExpr":"''+datum.value","offset":107,"domainColor":"#000","domainWidth":3,"tickColor":"#000","tickWidth":3,"tickSize":-5,"labelPadding":13,"labelFontSize":17,"labelColor":"#000","title":"Normalized amplitude","titleFontSize":16.8,"titleX":-45}},"y2":{"field":"h"},"color":{"field":"k","scale":{"domain":["Broad Spiking","Narrow Spiking","Unclassified"],"range":["#2e3192","#ed1c24","#a6a6a6"]},"legend":null}}},
{"data":{"name":"wave"},"mark":{"type":"line","strokeWidth":0.7,"opacity":0.7,"interpolate":"monotone"},"encoding":{"x":{"field":"t","type":"quantitative"},"y":{"field":"y","type":"quantitative"},"detail":{"field":"w"},"color":{"field":"k","legend":null}}},
{"data":{"values":[{"t":-0.306,"y":-0.92},{"t":-0.306,"y":-0.97},{"t":-0.106,"y":-0.97},{"t":-0.106,"y":-0.92}]},"mark":{"type":"line","stroke":"#000","strokeWidth":2.5},"encoding":{"x":{"field":"t","type":"quantitative","sort":null},"y":{"field":"y","type":"quantitative"},"order":{"value":0}}},
{"data":{"values":[{"t":-0.2,"y":-1.16,"s":"0.2 ms"}]},"mark":{"type":"text","fontSize":18.6,"baseline":"middle"},"encoding":{"x":{"field":"t","type":"quantitative"},"y":{"field":"y","type":"quantitative"},"text":{"field":"s"}}},
{"data":{"values":[{"t":0.266,"y":1.1,"s":"Broad Spiking"},{"t":0.266,"y":0.89,"s":"Narrow Spiking"},{"t":0.266,"y":0.69,"s":"Unclassified"}]},"mark":{"type":"text","fontSize":18,"align":"left","baseline":"middle"},"encoding":{"x":{"field":"t","type":"quantitative"},"y":{"field":"y","type":"quantitative"},"text":{"field":"s"},"color":{"field":"s","legend":null}}},
{"data":{"values":[{"t":-0.716,"y":1.03,"s":"B"}]},"mark":{"type":"text","fontSize":48,"fontWeight":"bold","align":"left","baseline":"alphabetic"},"encoding":{"x":{"field":"t","type":"quantitative"},"y":{"field":"y","type":"quantitative"},"text":{"field":"s"}}}
]},
{"width":278,"height":172,"layer":[
{"data":{"name":"bars"},"mark":{"type":"bar","size":8.5,"stroke":"#444","strokeWidth":0.9,"strokeOpacity":0.75},"encoding":{"x":{"field":"t","type":"quantitative","scale":{"domain":[0.131,1.059],"range":[-87,277],"nice":false},"axis":{"values":[0.2,0.4,0.6,0.8,1,1.055],"labelExpr":"datum.value>1.02?'max':''+datum.value","domainColor":"#000","domainWidth":2,"tickColor":"#000","tickSize":-3,"labelPadding":10,"labelFontSize":15,"labelColor":"#58595b","title":"Peak-to-trough delay (ms)","titleColor":"#58595b","titleFontSize":17.8,"titleX":115,"titleY":42}},"y":{"field":"n","type":"quantitative","scale":{"domain":[0,80],"nice":false},"axis":{"values":[0,20,40,60,80],"offset":87,"domainColor":"#000","domainWidth":2,"tickColor":"#000","tickWidth":2,"tickSize":-6,"labelPadding":10,"labelFontSize":15,"labelColor":"#58595b","title":"Count","titleColor":"#58595b","titleFontSize":17.3,"titleX":-41}},"color":{"field":"k","scale":{"domain":["Broad Spiking","Narrow Spiking","Unclassified"],"range":["#3953a4","#ed1c24","#8d8f92"]},"legend":null}}},
{"data":{"values":[{"t":-0.07,"y":71.2,"s":"C"}]},"mark":{"type":"text","fontSize":48,"fontWeight":"bold","align":"left","baseline":"alphabetic"},"encoding":{"x":{"field":"t","type":"quantitative"},"y":{"field":"y","type":"quantitative"},"text":{"field":"s"}}}
]},
{"width":278,"height":220,"data":{"name":"lines"},"transform":[{"filter":"datum.p=='D1'"}],"resolve":{"axis":{"x":"independent","y":"independent"},"legend":{"color":"independent"}},"layer":[
{"transform":[{"filter":"datum.s=='No Opto'"}],"mark":{"type":"area","fillOpacity":0.2,"strokeWidth":0.6,"strokeOpacity":0.4},"encoding":{"x":{"field":"x","type":"quantitative","scale":{"domain":[-4,4]},"axis":{"values":[-4,-3,-2,-1,0,1,2,3,4],"labelExpr":"''+datum.value","labelFontSize":11.5,"labelPadding":9,"title":"Bar orientation (rad, rel. to preferred)","titleY":39}},"y":{"field":"l","type":"quantitative","scale":{"domain":[0,3]},"axis":{"values":[0,0.5,1,1.5,2,2.5,3],"labelExpr":"''+datum.value","labelFontSize":11.5,"title":"Average response (Hz)","titleX":-53}},"y2":{"field":"h"},"color":{"field":"s","legend":null},"stroke":{"field":"s","legend":null}}},
{"transform":[{"filter":"datum.s=='No Opto'"}],"mark":{"type":"line","strokeWidth":2.8},"encoding":{"x":{"field":"x","type":"quantitative","axis":null},"y":{"field":"m","type":"quantitative","axis":null},"color":{"field":"s","legend":{"orient":"none","legendX":179,"legendY":10,"title":null,"symbolType":"stroke","symbolSize":484,"symbolStrokeWidth":2.5,"labelFontSize":14,"labelOffset":12,"rowPadding":7,"clipHeight":15}}}},
{"transform":[{"filter":"datum.s=='Opto'"}],"mark":{"type":"area","fillOpacity":0.2,"strokeWidth":0.6,"strokeOpacity":0.4},"encoding":{"x":{"field":"x","type":"quantitative","axis":null},"y":{"field":"l","type":"quantitative","axis":null},"y2":{"field":"h"},"color":{"field":"s","legend":null},"stroke":{"field":"s","legend":null}}},
{"transform":[{"filter":"datum.s=='Opto'"}],"mark":{"type":"line","strokeWidth":2.8},"encoding":{"x":{"field":"x","type":"quantitative","axis":null},"y":{"field":"m","type":"quantitative","axis":null},"color":{"field":"s","legend":null}}},
{"data":{"name":"stars"},"transform":[{"filter":"datum.p=='D1'"}],"mark":{"type":"text","text":"*","fontSize":20,"dy":5},"encoding":{"x":{"field":"x","type":"quantitative","axis":{"orient":"top","labels":false,"title":null,"values":[-4,-3,-2,-1,0,1,2,3,4]}},"y":{"field":"y","type":"quantitative","axis":{"orient":"right","labels":false,"title":null,"values":[0,0.5,1,1.5,2,2.5,3]}}}},
{"data":{"values":[{"x":0,"y":3.177,"t":"20 deg/s"}]},"mark":{"type":"text","fontSize":17,"fontWeight":"bold","baseline":"middle"},"encoding":{"x":{"field":"x","type":"quantitative","axis":null},"y":{"field":"y","type":"quantitative","axis":null},"text":{"field":"t"}}},
{"data":{"values":[{"x":-6.59,"y":3.11,"t":"D"}]},"mark":{"type":"text","fontSize":48,"fontWeight":"bold","align":"left","baseline":"alphabetic"},"encoding":{"x":{"field":"x","type":"quantitative","axis":null},"y":{"field":"y","type":"quantitative","axis":null},"text":{"field":"t"}}}
]},
{"width":278,"height":220,"data":{"name":"lines"},"transform":[{"filter":"datum.p=='D2'"}],"resolve":{"axis":{"x":"independent","y":"independent"}},"layer":[
{"transform":[{"filter":"datum.s=='No Opto'"}],"mark":{"type":"area","fillOpacity":0.2,"strokeWidth":0.6,"strokeOpacity":0.4},"encoding":{"x":{"field":"x","type":"quantitative","scale":{"domain":[-4,4]},"axis":{"values":[-4,-3,-2,-1,0,1,2,3,4],"labelExpr":"''+datum.value","labelFontSize":11.5,"labelPadding":9,"title":"Bar orientation (rad, rel. to preferred)","titleY":39}},"y":{"field":"l","type":"quantitative","scale":{"domain":[0,3]},"axis":{"values":[0,0.5,1,1.5,2,2.5,3],"labelExpr":"''+datum.value","labelFontSize":11.5,"title":null}},"y2":{"field":"h"},"color":{"field":"s","legend":null},"stroke":{"field":"s","legend":null}}},
{"transform":[{"filter":"datum.s=='No Opto'"}],"mark":{"type":"line","strokeWidth":2.8},"encoding":{"x":{"field":"x","type":"quantitative","axis":null},"y":{"field":"m","type":"quantitative","axis":null},"color":{"field":"s","legend":null}}},
{"transform":[{"filter":"datum.s=='Opto'"}],"mark":{"type":"area","fillOpacity":0.2,"strokeWidth":0.6,"strokeOpacity":0.4},"encoding":{"x":{"field":"x","type":"quantitative","axis":null},"y":{"field":"l","type":"quantitative","axis":null},"y2":{"field":"h"},"color":{"field":"s","legend":null},"stroke":{"field":"s","legend":null}}},
{"transform":[{"filter":"datum.s=='Opto'"}],"mark":{"type":"line","strokeWidth":2.8},"encoding":{"x":{"field":"x","type":"quantitative","axis":null},"y":{"field":"m","type":"quantitative","axis":null},"color":{"field":"s","legend":null}}},
{"data":{"name":"stars"},"transform":[{"filter":"datum.p=='D2'"}],"mark":{"type":"text","text":"*","fontSize":20,"dy":5},"encoding":{"x":{"field":"x","type":"quantitative","axis":{"orient":"top","labels":false,"title":null,"values":[-4,-3,-2,-1,0,1,2,3,4]}},"y":{"field":"y","type":"quantitative","axis":{"orient":"right","labels":false,"title":null,"values":[0,0.5,1,1.5,2,2.5,3]}}}},
{"data":{"values":[{"x":0,"y":3.177,"t":"40 deg/s"}]},"mark":{"type":"text","fontSize":17,"fontWeight":"bold","baseline":"middle"},"encoding":{"x":{"field":"x","type":"quantitative","axis":null},"y":{"field":"y","type":"quantitative","axis":null},"text":{"field":"t"}}},
{"data":{"values":[{"x":0,"y":3.49,"t":"Supragranular, Broad Spiking neurons"}]},"mark":{"type":"text","fontSize":25,"fontWeight":"bold","baseline":"middle"},"encoding":{"x":{"field":"x","type":"quantitative","axis":null},"y":{"field":"y","type":"quantitative","axis":null},"text":{"field":"t"}}}
]},
{"width":278,"height":220,"data":{"name":"lines"},"transform":[{"filter":"datum.p=='D3'"}],"resolve":{"axis":{"x":"independent","y":"independent"}},"layer":[
{"transform":[{"filter":"datum.s=='No Opto'"}],"mark":{"type":"area","fillOpacity":0.2,"strokeWidth":0.6,"strokeOpacity":0.4},"encoding":{"x":{"field":"x","type":"quantitative","scale":{"domain":[-4,4]},"axis":{"values":[-4,-3,-2,-1,0,1,2,3,4],"labelExpr":"''+datum.value","labelFontSize":11.5,"labelPadding":9,"title":"Bar orientation (rad, rel. to preferred)","titleY":39}},"y":{"field":"l","type":"quantitative","scale":{"domain":[0,3]},"axis":{"values":[0,0.5,1,1.5,2,2.5,3],"labelExpr":"''+datum.value","labelFontSize":11.5,"title":null}},"y2":{"field":"h"},"color":{"field":"s","legend":null},"stroke":{"field":"s","legend":null}}},
{"transform":[{"filter":"datum.s=='No Opto'"}],"mark":{"type":"line","strokeWidth":2.8},"encoding":{"x":{"field":"x","type":"quantitative","axis":null},"y":{"field":"m","type":"quantitative","axis":null},"color":{"field":"s","legend":null}}},
{"transform":[{"filter":"datum.s=='Opto'"}],"mark":{"type":"area","fillOpacity":0.2,"strokeWidth":0.6,"strokeOpacity":0.4},"encoding":{"x":{"field":"x","type":"quantitative","axis":null},"y":{"field":"l","type":"quantitative","axis":null},"y2":{"field":"h"},"color":{"field":"s","legend":null},"stroke":{"field":"s","legend":null}}},
{"transform":[{"filter":"datum.s=='Opto'"}],"mark":{"type":"line","strokeWidth":2.8},"encoding":{"x":{"field":"x","type":"quantitative","axis":null},"y":{"field":"m","type":"quantitative","axis":null},"color":{"field":"s","legend":null}}},
{"data":{"name":"stars"},"transform":[{"filter":"datum.p=='D3'"}],"mark":{"type":"text","text":"*","fontSize":20,"dy":5},"encoding":{"x":{"field":"x","type":"quantitative","axis":{"orient":"top","labels":false,"title":null,"values":[-4,-3,-2,-1,0,1,2,3,4]}},"y":{"field":"y","type":"quantitative","axis":{"orient":"right","labels":false,"title":null,"values":[0,0.5,1,1.5,2,2.5,3]}}}},
{"data":{"values":[{"x":0,"y":3.177,"t":"70 deg/s"}]},"mark":{"type":"text","fontSize":17,"fontWeight":"bold","baseline":"middle"},"encoding":{"x":{"field":"x","type":"quantitative","axis":null},"y":{"field":"y","type":"quantitative","axis":null},"text":{"field":"t"}}}
]},
{"width":278,"height":220,"data":{"name":"lines"},"transform":[{"filter":"datum.p=='E1'"}],"resolve":{"axis":{"x":"independent","y":"independent"}},"layer":[
{"transform":[{"filter":"datum.s=='No Opto'"}],"mark":{"type":"area","fillOpacity":0.2,"strokeWidth":0.6,"strokeOpacity":0.4},"encoding":{"x":{"field":"x","type":"quantitative","scale":{"domain":[-4,4]},"axis":{"values":[-4,-3,-2,-1,0,1,2,3,4],"labelExpr":"''+datum.value","offset":4,"title":"Bar orientation (rad, rel. to preferred)","titleY":39}},"y":{"field":"l","type":"quantitative","scale":{"domain":[0,6],"range":[224,4]},"axis":{"values":[0,1,2,3,4,5,6],"labelExpr":"''+datum.value","title":"Average response (Hz)","titleX":-53}},"y2":{"field":"h"},"color":{"field":"s","legend":null},"stroke":{"field":"s","legend":null}}},
{"transform":[{"filter":"datum.s=='No Opto'"}],"mark":{"type":"line","strokeWidth":2.8},"encoding":{"x":{"field":"x","type":"quantitative","axis":null},"y":{"field":"m","type":"quantitative","axis":null},"color":{"field":"s","legend":null}}},
{"transform":[{"filter":"datum.s=='Opto'"}],"mark":{"type":"area","fillOpacity":0.2,"strokeWidth":0.6,"strokeOpacity":0.4},"encoding":{"x":{"field":"x","type":"quantitative","axis":null},"y":{"field":"l","type":"quantitative","axis":null},"y2":{"field":"h"},"color":{"field":"s","legend":null},"stroke":{"field":"s","legend":null}}},
{"transform":[{"filter":"datum.s=='Opto'"}],"mark":{"type":"line","strokeWidth":2.8},"encoding":{"x":{"field":"x","type":"quantitative","axis":null},"y":{"field":"m","type":"quantitative","axis":null},"color":{"field":"s","legend":null}}},
{"data":{"name":"stars"},"transform":[{"filter":"datum.p=='E1'"}],"mark":{"type":"text","text":"*","fontSize":20,"dy":5},"encoding":{"x":{"field":"x","type":"quantitative","axis":{"orient":"top","labels":false,"title":null,"offset":-4,"values":[-4,-3,-2,-1,0,1,2,3,4]}},"y":{"field":"y","type":"quantitative","axis":{"orient":"right","labels":false,"title":null,"values":[0,1,2,3,4,5,6]}}}},
{"data":{"values":[{"x":0,"y":6.41,"t":"20 deg/s"}]},"mark":{"type":"text","fontSize":17,"fontWeight":"bold","baseline":"middle"},"encoding":{"x":{"field":"x","type":"quantitative","axis":null},"y":{"field":"y","type":"quantitative","axis":null},"text":{"field":"t"}}},
{"data":{"values":[{"x":-6.53,"y":6.14,"t":"E"}]},"mark":{"type":"text","fontSize":48,"fontWeight":"bold","align":"left","baseline":"alphabetic"},"encoding":{"x":{"field":"x","type":"quantitative","axis":null},"y":{"field":"y","type":"quantitative","axis":null},"text":{"field":"t"}}}
]},
{"width":278,"height":220,"data":{"name":"lines"},"transform":[{"filter":"datum.p=='E2'"}],"resolve":{"axis":{"x":"independent","y":"independent"}},"layer":[
{"transform":[{"filter":"datum.s=='No Opto'"}],"mark":{"type":"area","fillOpacity":0.2,"strokeWidth":0.6,"strokeOpacity":0.4},"encoding":{"x":{"field":"x","type":"quantitative","scale":{"domain":[-4,4]},"axis":{"values":[-4,-3,-2,-1,0,1,2,3,4],"labelExpr":"''+datum.value","offset":4,"title":"Bar orientation (rad, rel. to preferred)","titleY":39}},"y":{"field":"l","type":"quantitative","scale":{"domain":[0,6],"range":[224,4]},"axis":{"values":[0,1,2,3,4,5,6],"labelExpr":"''+datum.value","title":null}},"y2":{"field":"h"},"color":{"field":"s","legend":null},"stroke":{"field":"s","legend":null}}},
{"transform":[{"filter":"datum.s=='No Opto'"}],"mark":{"type":"line","strokeWidth":2.8},"encoding":{"x":{"field":"x","type":"quantitative","axis":null},"y":{"field":"m","type":"quantitative","axis":null},"color":{"field":"s","legend":null}}},
{"transform":[{"filter":"datum.s=='Opto'"}],"mark":{"type":"area","fillOpacity":0.2,"strokeWidth":0.6,"strokeOpacity":0.4},"encoding":{"x":{"field":"x","type":"quantitative","axis":null},"y":{"field":"l","type":"quantitative","axis":null},"y2":{"field":"h"},"color":{"field":"s","legend":null},"stroke":{"field":"s","legend":null}}},
{"transform":[{"filter":"datum.s=='Opto'"}],"mark":{"type":"line","strokeWidth":2.8},"encoding":{"x":{"field":"x","type":"quantitative","axis":null},"y":{"field":"m","type":"quantitative","axis":null},"color":{"field":"s","legend":null}}},
{"data":{"name":"stars"},"transform":[{"filter":"datum.p=='E2'"}],"mark":{"type":"text","text":"*","fontSize":20,"dy":5},"encoding":{"x":{"field":"x","type":"quantitative","axis":{"orient":"top","labels":false,"title":null,"offset":-4,"values":[-4,-3,-2,-1,0,1,2,3,4]}},"y":{"field":"y","type":"quantitative","axis":{"orient":"right","labels":false,"title":null,"values":[0,1,2,3,4,5,6]}}}},
{"data":{"values":[{"x":0,"y":6.41,"t":"40 deg/s"}]},"mark":{"type":"text","fontSize":17,"fontWeight":"bold","baseline":"middle"},"encoding":{"x":{"field":"x","type":"quantitative","axis":null},"y":{"field":"y","type":"quantitative","axis":null},"text":{"field":"t"}}},
{"data":{"values":[{"x":0,"y":7.07,"t":"Granular, Broad Spiking neurons"}]},"mark":{"type":"text","fontSize":25,"fontWeight":"bold","baseline":"middle"},"encoding":{"x":{"field":"x","type":"quantitative","axis":null},"y":{"field":"y","type":"quantitative","axis":null},"text":{"field":"t"}}}
]},
{"width":278,"height":220,"data":{"name":"lines"},"transform":[{"filter":"datum.p=='E3'"}],"resolve":{"axis":{"x":"independent","y":"independent"}},"layer":[
{"transform":[{"filter":"datum.s=='No Opto'"}],"mark":{"type":"area","fillOpacity":0.2,"strokeWidth":0.6,"strokeOpacity":0.4},"encoding":{"x":{"field":"x","type":"quantitative","scale":{"domain":[-4,4]},"axis":{"values":[-4,-3,-2,-1,0,1,2,3,4],"labelExpr":"''+datum.value","offset":4,"title":"Bar orientation (rad, rel. to preferred)","titleY":39}},"y":{"field":"l","type":"quantitative","scale":{"domain":[0,6],"range":[224,4]},"axis":{"values":[0,1,2,3,4,5,6],"labelExpr":"''+datum.value","title":null}},"y2":{"field":"h"},"color":{"field":"s","legend":null},"stroke":{"field":"s","legend":null}}},
{"transform":[{"filter":"datum.s=='No Opto'"}],"mark":{"type":"line","strokeWidth":2.8},"encoding":{"x":{"field":"x","type":"quantitative","axis":null},"y":{"field":"m","type":"quantitative","axis":null},"color":{"field":"s","legend":null}}},
{"transform":[{"filter":"datum.s=='Opto'"}],"mark":{"type":"area","fillOpacity":0.2,"strokeWidth":0.6,"strokeOpacity":0.4},"encoding":{"x":{"field":"x","type":"quantitative","axis":null},"y":{"field":"l","type":"quantitative","axis":null},"y2":{"field":"h"},"color":{"field":"s","legend":null},"stroke":{"field":"s","legend":null}}},
{"transform":[{"filter":"datum.s=='Opto'"}],"mark":{"type":"line","strokeWidth":2.8},"encoding":{"x":{"field":"x","type":"quantitative","axis":null},"y":{"field":"m","type":"quantitative","axis":null},"color":{"field":"s","legend":null}}},
{"data":{"name":"stars"},"transform":[{"filter":"datum.p=='E3'"}],"mark":{"type":"text","text":"*","fontSize":20,"dy":5},"encoding":{"x":{"field":"x","type":"quantitative","axis":{"orient":"top","labels":false,"title":null,"offset":-4,"values":[-4,-3,-2,-1,0,1,2,3,4]}},"y":{"field":"y","type":"quantitative","axis":{"orient":"right","labels":false,"title":null,"values":[0,1,2,3,4,5,6]}}}},
{"data":{"values":[{"x":0,"y":6.41,"t":"70 deg/s"}]},"mark":{"type":"text","fontSize":17,"fontWeight":"bold","baseline":"middle"},"encoding":{"x":{"field":"x","type":"quantitative","axis":null},"y":{"field":"y","type":"quantitative","axis":null},"text":{"field":"t"}}}
]},
{"width":278,"height":220,"data":{"name":"lines"},"transform":[{"filter":"datum.p=='F1'"}],"resolve":{"axis":{"x":"independent","y":"independent"}},"layer":[
{"transform":[{"filter":"datum.s=='No Opto'"}],"mark":{"type":"area","fillOpacity":0.2,"strokeWidth":0.6,"strokeOpacity":0.4},"encoding":{"x":{"field":"x","type":"quantitative","scale":{"domain":[-4,4]},"axis":{"values":[-4,-3,-2,-1,0,1,2,3,4],"labelExpr":"''+datum.value","title":"Bar orientation (rad, rel. to preferred)","titleY":39}},"y":{"field":"l","type":"quantitative","scale":{"domain":[0,5]},"axis":{"values":[0,0.5,1,1.5,2,2.5,3,3.5,4,4.5,5],"labelExpr":"''+datum.value","title":"Average response (Hz)","titleX":-53}},"y2":{"field":"h"},"color":{"field":"s","legend":null},"stroke":{"field":"s","legend":null}}},
{"transform":[{"filter":"datum.s=='No Opto'"}],"mark":{"type":"line","strokeWidth":2.8},"encoding":{"x":{"field":"x","type":"quantitative","axis":null},"y":{"field":"m","type":"quantitative","axis":null},"color":{"field":"s","legend":null}}},
{"transform":[{"filter":"datum.s=='Opto'"}],"mark":{"type":"area","fillOpacity":0.2,"strokeWidth":0.6,"strokeOpacity":0.4},"encoding":{"x":{"field":"x","type":"quantitative","axis":null},"y":{"field":"l","type":"quantitative","axis":null},"y2":{"field":"h"},"color":{"field":"s","legend":null},"stroke":{"field":"s","legend":null}}},
{"transform":[{"filter":"datum.s=='Opto'"}],"mark":{"type":"line","strokeWidth":2.8},"encoding":{"x":{"field":"x","type":"quantitative","axis":null},"y":{"field":"m","type":"quantitative","axis":null},"color":{"field":"s","legend":null}}},
{"data":{"name":"stars"},"transform":[{"filter":"datum.p=='F1'"}],"mark":{"type":"text","text":"*","fontSize":20,"dy":5},"encoding":{"x":{"field":"x","type":"quantitative","axis":{"orient":"top","labels":false,"title":null,"values":[-4,-3,-2,-1,0,1,2,3,4]}},"y":{"field":"y","type":"quantitative","axis":{"orient":"right","labels":false,"title":null,"values":[0,0.5,1,1.5,2,2.5,3,3.5,4,4.5,5]}}}},
{"data":{"values":[{"x":0,"y":5.33,"t":"20 deg/s"}]},"mark":{"type":"text","fontSize":17,"fontWeight":"bold","baseline":"middle"},"encoding":{"x":{"field":"x","type":"quantitative","axis":null},"y":{"field":"y","type":"quantitative","axis":null},"text":{"field":"t"}}},
{"data":{"values":[{"x":-6.47,"y":5.07,"t":"F"}]},"mark":{"type":"text","fontSize":48,"fontWeight":"bold","align":"left","baseline":"alphabetic"},"encoding":{"x":{"field":"x","type":"quantitative","axis":null},"y":{"field":"y","type":"quantitative","axis":null},"text":{"field":"t"}}}
]},
{"width":278,"height":220,"data":{"name":"lines"},"transform":[{"filter":"datum.p=='F2'"}],"resolve":{"axis":{"x":"independent","y":"independent"}},"layer":[
{"transform":[{"filter":"datum.s=='No Opto'"}],"mark":{"type":"area","fillOpacity":0.2,"strokeWidth":0.6,"strokeOpacity":0.4},"encoding":{"x":{"field":"x","type":"quantitative","scale":{"domain":[-4,4]},"axis":{"values":[-4,-3,-2,-1,0,1,2,3,4],"labelExpr":"''+datum.value","title":"Bar orientation (rad, rel. to preferred)","titleY":39}},"y":{"field":"l","type":"quantitative","scale":{"domain":[0,5]},"axis":{"values":[0,0.5,1,1.5,2,2.5,3,3.5,4,4.5,5],"labelExpr":"''+datum.value","title":null}},"y2":{"field":"h"},"color":{"field":"s","legend":null},"stroke":{"field":"s","legend":null}}},
{"transform":[{"filter":"datum.s=='No Opto'"}],"mark":{"type":"line","strokeWidth":2.8},"encoding":{"x":{"field":"x","type":"quantitative","axis":null},"y":{"field":"m","type":"quantitative","axis":null},"color":{"field":"s","legend":null}}},
{"transform":[{"filter":"datum.s=='Opto'"}],"mark":{"type":"area","fillOpacity":0.2,"strokeWidth":0.6,"strokeOpacity":0.4},"encoding":{"x":{"field":"x","type":"quantitative","axis":null},"y":{"field":"l","type":"quantitative","axis":null},"y2":{"field":"h"},"color":{"field":"s","legend":null},"stroke":{"field":"s","legend":null}}},
{"transform":[{"filter":"datum.s=='Opto'"}],"mark":{"type":"line","strokeWidth":2.8},"encoding":{"x":{"field":"x","type":"quantitative","axis":null},"y":{"field":"m","type":"quantitative","axis":null},"color":{"field":"s","legend":null}}},
{"data":{"name":"stars"},"transform":[{"filter":"datum.p=='F2'"}],"mark":{"type":"text","text":"*","fontSize":20,"dy":5},"encoding":{"x":{"field":"x","type":"quantitative","axis":{"orient":"top","labels":false,"title":null,"values":[-4,-3,-2,-1,0,1,2,3,4]}},"y":{"field":"y","type":"quantitative","axis":{"orient":"right","labels":false,"title":null,"values":[0,0.5,1,1.5,2,2.5,3,3.5,4,4.5,5]}}}},
{"data":{"values":[{"x":0,"y":5.33,"t":"40 deg/s"}]},"mark":{"type":"text","fontSize":17,"fontWeight":"bold","baseline":"middle"},"encoding":{"x":{"field":"x","type":"quantitative","axis":null},"y":{"field":"y","type":"quantitative","axis":null},"text":{"field":"t"}}},
{"data":{"values":[{"x":0,"y":5.86,"t":"Infragranular, Broad Spiking neurons"}]},"mark":{"type":"text","fontSize":25,"fontWeight":"bold","baseline":"middle"},"encoding":{"x":{"field":"x","type":"quantitative","axis":null},"y":{"field":"y","type":"quantitative","axis":null},"text":{"field":"t"}}}
]},
{"width":278,"height":220,"data":{"name":"lines"},"transform":[{"filter":"datum.p=='F3'"}],"resolve":{"axis":{"x":"independent","y":"independent"}},"layer":[
{"transform":[{"filter":"datum.s=='No Opto'"}],"mark":{"type":"area","fillOpacity":0.2,"strokeWidth":0.6,"strokeOpacity":0.4},"encoding":{"x":{"field":"x","type":"quantitative","scale":{"domain":[-4,4]},"axis":{"values":[-4,-3,-2,-1,0,1,2,3,4],"labelExpr":"''+datum.value","title":"Bar orientation (rad, rel. to preferred)","titleY":39}},"y":{"field":"l","type":"quantitative","scale":{"domain":[0,5]},"axis":{"values":[0,0.5,1,1.5,2,2.5,3,3.5,4,4.5,5],"labelExpr":"''+datum.value","title":null}},"y2":{"field":"h"},"color":{"field":"s","legend":null},"stroke":{"field":"s","legend":null}}},
{"transform":[{"filter":"datum.s=='No Opto'"}],"mark":{"type":"line","strokeWidth":2.8},"encoding":{"x":{"field":"x","type":"quantitative","axis":null},"y":{"field":"m","type":"quantitative","axis":null},"color":{"field":"s","legend":null}}},
{"transform":[{"filter":"datum.s=='Opto'"}],"mark":{"type":"area","fillOpacity":0.2,"strokeWidth":0.6,"strokeOpacity":0.4},"encoding":{"x":{"field":"x","type":"quantitative","axis":null},"y":{"field":"l","type":"quantitative","axis":null},"y2":{"field":"h"},"color":{"field":"s","legend":null},"stroke":{"field":"s","legend":null}}},
{"transform":[{"filter":"datum.s=='Opto'"}],"mark":{"type":"line","strokeWidth":2.8},"encoding":{"x":{"field":"x","type":"quantitative","axis":null},"y":{"field":"m","type":"quantitative","axis":null},"color":{"field":"s","legend":null}}},
{"data":{"name":"stars"},"transform":[{"filter":"datum.p=='F3'"}],"mark":{"type":"text","text":"*","fontSize":20,"dy":5},"encoding":{"x":{"field":"x","type":"quantitative","axis":{"orient":"top","labels":false,"title":null,"values":[-4,-3,-2,-1,0,1,2,3,4]}},"y":{"field":"y","type":"quantitative","axis":{"orient":"right","labels":false,"title":null,"values":[0,0.5,1,1.5,2,2.5,3,3.5,4,4.5,5]}}}},
{"data":{"values":[{"x":0,"y":5.33,"t":"70 deg/s"}]},"mark":{"type":"text","fontSize":17,"fontWeight":"bold","baseline":"middle"},"encoding":{"x":{"field":"x","type":"quantitative","axis":null},"y":{"field":"y","type":"quantitative","axis":null},"text":{"field":"t"}}}
]},
{"width":278,"height":220,"data":{"name":"lines"},"transform":[{"filter":"datum.p=='G1'"}],"resolve":{"axis":{"x":"independent","y":"independent"}},"layer":[
{"transform":[{"filter":"datum.s=='No Opto'"}],"mark":{"type":"area","fillOpacity":0.2,"strokeWidth":0.6,"strokeOpacity":0.4},"encoding":{"x":{"field":"x","type":"quantitative","scale":{"domain":[-4,4]},"axis":{"values":[-4,-3,-2,-1,0,1,2,3,4],"labelExpr":"''+datum.value","title":"Bar orientation (rad, rel. to preferred)","titleY":39}},"y":{"field":"l","type":"quantitative","scale":{"domain":[0,2.5],"nice":false},"axis":{"values":[0,0.5,1,1.5,2,2.5],"labelExpr":"''+datum.value","title":"Average response (Hz)","titleX":-53}},"y2":{"field":"h"},"color":{"field":"s","legend":null},"stroke":{"field":"s","legend":null}}},
{"transform":[{"filter":"datum.s=='No Opto'"}],"mark":{"type":"line","strokeWidth":2.8},"encoding":{"x":{"field":"x","type":"quantitative","axis":null},"y":{"field":"m","type":"quantitative","axis":null},"color":{"field":"s","legend":null}}},
{"transform":[{"filter":"datum.s=='Opto'"}],"mark":{"type":"area","fillOpacity":0.2,"strokeWidth":0.6,"strokeOpacity":0.4},"encoding":{"x":{"field":"x","type":"quantitative","axis":null},"y":{"field":"l","type":"quantitative","axis":null},"y2":{"field":"h"},"color":{"field":"s","legend":null},"stroke":{"field":"s","legend":null}}},
{"transform":[{"filter":"datum.s=='Opto'"}],"mark":{"type":"line","strokeWidth":2.8},"encoding":{"x":{"field":"x","type":"quantitative","axis":null},"y":{"field":"m","type":"quantitative","axis":null},"color":{"field":"s","legend":null}}},
{"data":{"name":"stars"},"transform":[{"filter":"datum.p=='G1'"}],"mark":{"type":"text","text":"*","fontSize":20,"dy":5},"encoding":{"x":{"field":"x","type":"quantitative","axis":{"orient":"top","labels":false,"title":null,"values":[-4,-3,-2,-1,0,1,2,3,4]}},"y":{"field":"y","type":"quantitative","axis":{"orient":"right","labels":false,"title":null,"values":[0,0.5,1,1.5,2,2.5]}}}},
{"data":{"values":[{"x":0,"y":2.66,"t":"20 deg/s"}]},"mark":{"type":"text","fontSize":17,"fontWeight":"bold","baseline":"middle"},"encoding":{"x":{"field":"x","type":"quantitative","axis":null},"y":{"field":"y","type":"quantitative","axis":null},"text":{"field":"t"}}},
{"data":{"values":[{"x":-6.56,"y":2.5,"t":"G"}]},"mark":{"type":"text","fontSize":48,"fontWeight":"bold","align":"left","baseline":"alphabetic"},"encoding":{"x":{"field":"x","type":"quantitative","axis":null},"y":{"field":"y","type":"quantitative","axis":null},"text":{"field":"t"}}}
]},
{"width":278,"height":220,"data":{"name":"lines"},"transform":[{"filter":"datum.p=='G2'"}],"resolve":{"axis":{"x":"independent","y":"independent"}},"layer":[
{"transform":[{"filter":"datum.s=='No Opto'"}],"mark":{"type":"area","fillOpacity":0.2,"strokeWidth":0.6,"strokeOpacity":0.4},"encoding":{"x":{"field":"x","type":"quantitative","scale":{"domain":[-4,4]},"axis":{"values":[-4,-3,-2,-1,0,1,2,3,4],"labelExpr":"''+datum.value","title":"Bar orientation (rad, rel. to preferred)","titleY":39}},"y":{"field":"l","type":"quantitative","scale":{"domain":[0,2.5],"nice":false},"axis":{"values":[0,0.5,1,1.5,2,2.5],"labelExpr":"''+datum.value","title":null}},"y2":{"field":"h"},"color":{"field":"s","legend":null},"stroke":{"field":"s","legend":null}}},
{"transform":[{"filter":"datum.s=='No Opto'"}],"mark":{"type":"line","strokeWidth":2.8},"encoding":{"x":{"field":"x","type":"quantitative","axis":null},"y":{"field":"m","type":"quantitative","axis":null},"color":{"field":"s","legend":null}}},
{"transform":[{"filter":"datum.s=='Opto'"}],"mark":{"type":"area","fillOpacity":0.2,"strokeWidth":0.6,"strokeOpacity":0.4},"encoding":{"x":{"field":"x","type":"quantitative","axis":null},"y":{"field":"l","type":"quantitative","axis":null},"y2":{"field":"h"},"color":{"field":"s","legend":null},"stroke":{"field":"s","legend":null}}},
{"transform":[{"filter":"datum.s=='Opto'"}],"mark":{"type":"line","strokeWidth":2.8},"encoding":{"x":{"field":"x","type":"quantitative","axis":null},"y":{"field":"m","type":"quantitative","axis":null},"color":{"field":"s","legend":null}}},
{"data":{"name":"stars"},"transform":[{"filter":"datum.p=='G2'"}],"mark":{"type":"text","text":"*","fontSize":20,"dy":5},"encoding":{"x":{"field":"x","type":"quantitative","axis":{"orient":"top","labels":false,"title":null,"values":[-4,-3,-2,-1,0,1,2,3,4]}},"y":{"field":"y","type":"quantitative","axis":{"orient":"right","labels":false,"title":null,"values":[0,0.5,1,1.5,2,2.5]}}}},
{"data":{"values":[{"x":0,"y":2.66,"t":"40 deg/s"}]},"mark":{"type":"text","fontSize":17,"fontWeight":"bold","baseline":"middle"},"encoding":{"x":{"field":"x","type":"quantitative","axis":null},"y":{"field":"y","type":"quantitative","axis":null},"text":{"field":"t"}}},
{"data":{"values":[{"x":0,"y":2.95,"t":"All layers, Narrow Spiking neurons"}]},"mark":{"type":"text","fontSize":25,"fontWeight":"bold","baseline":"middle"},"encoding":{"x":{"field":"x","type":"quantitative","axis":null},"y":{"field":"y","type":"quantitative","axis":null},"text":{"field":"t"}}}
]},
{"width":278,"height":220,"data":{"name":"lines"},"transform":[{"filter":"datum.p=='G3'"}],"resolve":{"axis":{"x":"independent","y":"independent"}},"layer":[
{"transform":[{"filter":"datum.s=='No Opto'"}],"mark":{"type":"area","fillOpacity":0.2,"strokeWidth":0.6,"strokeOpacity":0.4},"encoding":{"x":{"field":"x","type":"quantitative","scale":{"domain":[-4,4]},"axis":{"values":[-4,-3,-2,-1,0,1,2,3,4],"labelExpr":"''+datum.value","title":"Bar orientation (rad, rel. to preferred)","titleY":39}},"y":{"field":"l","type":"quantitative","scale":{"domain":[0,2.5],"nice":false},"axis":{"values":[0,0.5,1,1.5,2,2.5],"labelExpr":"''+datum.value","title":null}},"y2":{"field":"h"},"color":{"field":"s","legend":null},"stroke":{"field":"s","legend":null}}},
{"transform":[{"filter":"datum.s=='No Opto'"}],"mark":{"type":"line","strokeWidth":2.8},"encoding":{"x":{"field":"x","type":"quantitative","axis":null},"y":{"field":"m","type":"quantitative","axis":null},"color":{"field":"s","legend":null}}},
{"transform":[{"filter":"datum.s=='Opto'"}],"mark":{"type":"area","fillOpacity":0.2,"strokeWidth":0.6,"strokeOpacity":0.4},"encoding":{"x":{"field":"x","type":"quantitative","axis":null},"y":{"field":"l","type":"quantitative","axis":null},"y2":{"field":"h"},"color":{"field":"s","legend":null},"stroke":{"field":"s","legend":null}}},
{"transform":[{"filter":"datum.s=='Opto'"}],"mark":{"type":"line","strokeWidth":2.8},"encoding":{"x":{"field":"x","type":"quantitative","axis":null},"y":{"field":"m","type":"quantitative","axis":null},"color":{"field":"s","legend":null}}},
{"data":{"name":"stars"},"transform":[{"filter":"datum.p=='G3'"}],"mark":{"type":"text","text":"*","fontSize":20,"dy":5},"encoding":{"x":{"field":"x","type":"quantitative","axis":{"orient":"top","labels":false,"title":null,"values":[-4,-3,-2,-1,0,1,2,3,4]}},"y":{"field":"y","type":"quantitative","axis":{"orient":"right","labels":false,"title":null,"values":[0,0.5,1,1.5,2,2.5]}}}},
{"data":{"values":[{"x":0,"y":2.66,"t":"70 deg/s"}]},"mark":{"type":"text","fontSize":17,"fontWeight":"bold","baseline":"middle"},"encoding":{"x":{"field":"x","type":"quantitative","axis":null},"y":{"field":"y","type":"quantitative","axis":null},"text":{"field":"t"}}}
]}
]}
